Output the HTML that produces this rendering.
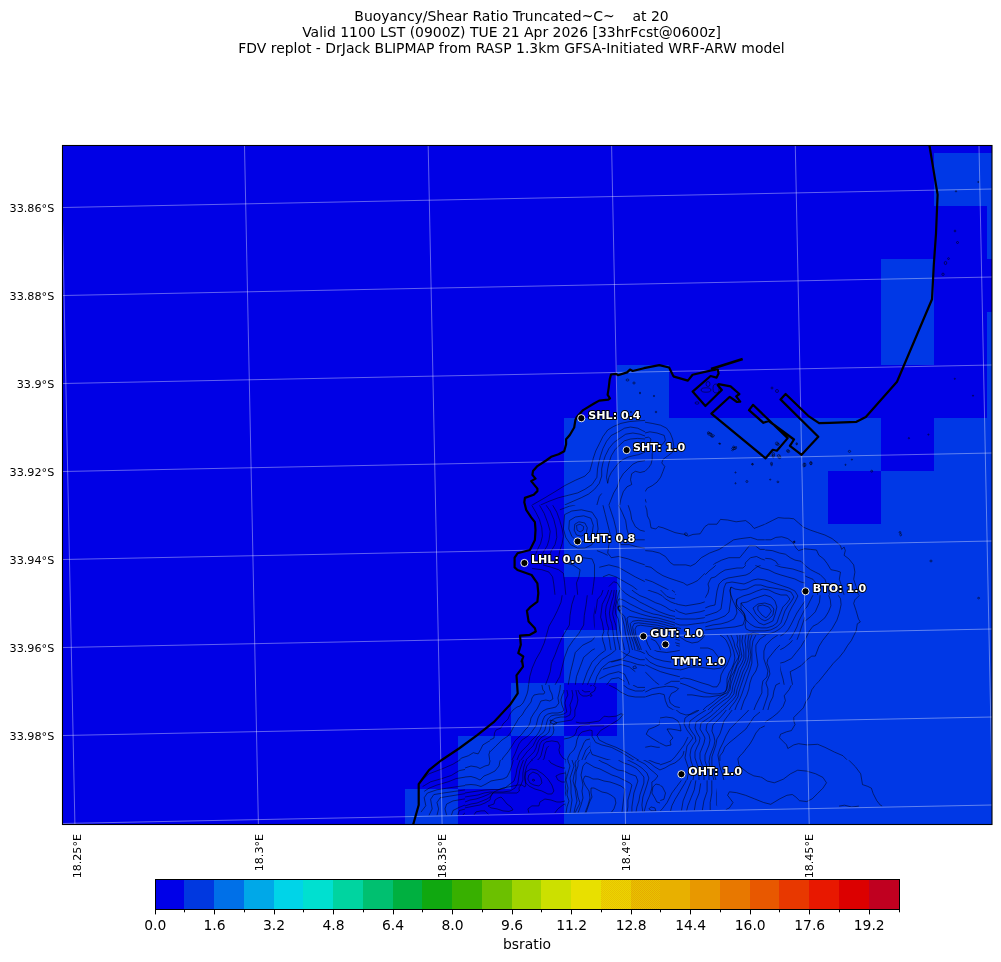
<!DOCTYPE html><html><head><meta charset="utf-8"><style>html,body{margin:0;padding:0;background:#fff;}svg{display:block;will-change:transform}text{font-family:"DejaVu Sans","Liberation Sans",sans-serif}</style></head><body>
<svg width="1001" height="962" viewBox="0 0 1001 962">
<rect width="1001" height="962" fill="#fff"/>
<text x="511.5" y="21.3" font-size="13.95" text-anchor="middle" fill="#000">Buoyancy/Shear Ratio Truncated~C~    at 20</text>
<text x="511.5" y="37.2" font-size="13.95" text-anchor="middle" fill="#000">Valid 1100 LST (0900Z) TUE 21 Apr 2026 [33hrFcst@0600z]</text>
<text x="511.5" y="53.0" font-size="13.95" text-anchor="middle" fill="#000">FDV replot - DrJack BLIPMAP from RASP 1.3km GFSA-Initiated WRF-ARW model</text>
<clipPath id="mc"><rect x="63" y="146" width="929" height="678"/></clipPath>
<g clip-path="url(#mc)">
<rect x="63" y="146" width="929" height="678" fill="#0000e6"/>
<path d="M934,153H987V206H934ZM987,153H1040V206H987ZM987,206H1040V259H987ZM881,259H934V312H881ZM881,312H934V365H881ZM987,312H1040V365H987ZM617,365H669V418H617ZM987,365H1040V418H987ZM564,418H617V471H564ZM617,418H669V471H617ZM669,418H722V471H669ZM722,418H775V471H722ZM775,418H828V471H775ZM828,418H881V471H828ZM934,418H987V471H934ZM987,418H1040V471H987ZM564,471H617V524H564ZM617,471H669V524H617ZM669,471H722V524H669ZM722,471H775V524H722ZM775,471H828V524H775ZM881,471H934V524H881ZM934,471H987V524H934ZM987,471H1040V524H987ZM564,524H617V577H564ZM617,524H669V577H617ZM669,524H722V577H669ZM722,524H775V577H722ZM775,524H828V577H775ZM828,524H881V577H828ZM881,524H934V577H881ZM934,524H987V577H934ZM987,524H1040V577H987ZM617,577H669V630H617ZM669,577H722V630H669ZM722,577H775V630H722ZM775,577H828V630H775ZM828,577H881V630H828ZM881,577H934V630H881ZM934,577H987V630H934ZM987,577H1040V630H987ZM564,630H617V683H564ZM617,630H669V683H617ZM669,630H722V683H669ZM722,630H775V683H722ZM775,630H828V683H775ZM828,630H881V683H828ZM881,630H934V683H881ZM934,630H987V683H934ZM987,630H1040V683H987ZM511,683H564V736H511ZM617,683H669V736H617ZM669,683H722V736H669ZM722,683H775V736H722ZM775,683H828V736H775ZM828,683H881V736H828ZM881,683H934V736H881ZM934,683H987V736H934ZM987,683H1040V736H987ZM458,736H511V789H458ZM564,736H617V789H564ZM617,736H669V789H617ZM669,736H722V789H669ZM722,736H775V789H722ZM775,736H828V789H775ZM828,736H881V789H828ZM881,736H934V789H881ZM934,736H987V789H934ZM987,736H1040V789H987ZM405,789H458V842H405ZM564,789H617V842H564ZM617,789H669V842H617ZM669,789H722V842H669ZM722,789H775V842H722ZM775,789H828V842H775ZM828,789H881V842H828ZM881,789H934V842H881ZM934,789H987V842H934ZM987,789H1040V842H987Z" fill="#0038e6" shape-rendering="crispEdges"/>
<clipPath id="cclip"><path d="M60,100L1000,100L1000,804.4L60,823.1Z"/></clipPath>
<g clip-path="url(#cclip)"><g id="contours" fill="none" stroke="#000" stroke-opacity="0.7" stroke-width="0.72" stroke-linejoin="round">
<defs><clipPath id="t0"><rect x="525" y="415" width="120" height="90.0"/></clipPath><clipPath id="t1"><rect x="645" y="415" width="120" height="90.0"/></clipPath><mask id="t2" maskUnits="userSpaceOnUse" x="0" y="0" width="1001" height="962"><rect x="525" y="505" width="120" height="90.0" fill="#fff"/><rect x="595" y="590" width="50" height="5.0" fill="#000"/></mask><mask id="t3" maskUnits="userSpaceOnUse" x="0" y="0" width="1001" height="962"><rect x="525" y="595" width="120" height="90.0" fill="#fff"/><rect x="595" y="595" width="50" height="55.0" fill="#000"/></mask><mask id="t4" maskUnits="userSpaceOnUse" x="0" y="0" width="1001" height="962"><rect x="645" y="505" width="120" height="90.0" fill="#fff"/><rect x="645" y="590" width="30" height="5.0" fill="#000"/><rect x="705" y="565" width="60" height="30.0" fill="#000"/></mask><mask id="t5" maskUnits="userSpaceOnUse" x="0" y="0" width="1001" height="962"><rect x="765" y="505" width="120" height="90.0" fill="#fff"/><rect x="765" y="565" width="40" height="30.0" fill="#000"/></mask><mask id="t6" maskUnits="userSpaceOnUse" x="0" y="0" width="1001" height="962"><rect x="645" y="595" width="120" height="90.0" fill="#fff"/><rect x="645" y="595" width="30" height="55.0" fill="#000"/><rect x="705" y="595" width="60" height="45.0" fill="#000"/><rect x="680" y="635" width="85" height="50.0" fill="#000"/></mask><mask id="t7" maskUnits="userSpaceOnUse" x="0" y="0" width="1001" height="962"><rect x="765" y="595" width="120" height="90.0" fill="#fff"/><rect x="765" y="595" width="40" height="45.0" fill="#000"/><rect x="765" y="635" width="15" height="50.0" fill="#000"/></mask><clipPath id="t8"><rect x="405" y="685" width="85" height="75"/></clipPath><clipPath id="t9"><rect x="590" y="685" width="55" height="75"/></clipPath><mask id="t10" maskUnits="userSpaceOnUse" x="0" y="0" width="1001" height="962"><rect x="645" y="685" width="120" height="75" fill="#fff"/><rect x="680" y="685" width="85" height="25" fill="#000"/><rect x="660" y="710" width="100" height="50" fill="#000"/></mask><mask id="t11" maskUnits="userSpaceOnUse" x="0" y="0" width="1001" height="962"><rect x="765" y="685" width="120" height="75" fill="#fff"/><rect x="765" y="685" width="15" height="25" fill="#000"/></mask><clipPath id="t12"><rect x="405" y="760" width="60" height="66"/></clipPath><mask id="t13" maskUnits="userSpaceOnUse" x="0" y="0" width="1001" height="962"><rect x="660" y="760" width="57" height="66" fill="#fff"/><rect x="660" y="760" width="57" height="20" fill="#000"/></mask><mask id="t14" maskUnits="userSpaceOnUse" x="0" y="0" width="1001" height="962"><rect x="717" y="760" width="183" height="66" fill="#fff"/><rect x="717" y="760" width="43" height="20" fill="#000"/></mask><clipPath id="t15"><rect x="490" y="685" width="100" height="75"/></clipPath><clipPath id="t16"><rect x="465" y="760" width="100" height="66"/></clipPath><clipPath id="t17"><rect x="565" y="760" width="95" height="66"/></clipPath><clipPath id="t18"><rect x="595" y="590" width="80" height="60.0"/></clipPath><mask id="t19" maskUnits="userSpaceOnUse" x="0" y="0" width="1001" height="962"><rect x="705" y="565" width="100" height="75.0" fill="#fff"/><rect x="705" y="635" width="75" height="5.0" fill="#000"/></mask><clipPath id="t20"><rect x="680" y="635" width="100" height="75"/></clipPath><clipPath id="t21"><rect x="660" y="710" width="100" height="70"/></clipPath></defs>
<g clip-path="url(#t0)">
<polyline points="532.2,505.0 543.0,498.9 555.0,491.7 564.6,485.7 575.3,480.3 584.9,476.1 589.7,471.3 591.5,465.3 593.3,458.2 595.7,451.0 599.3,443.8 602.9,436.6 607.7,430.0 613.7,426.4 620.9,423.4 629.3,421.6 638.9,420.8 645.0,420.4"/>
<polyline points="540.6,505.0 549.0,501.3 558.6,497.7 568.2,495.3 577.7,492.9 584.9,489.3 592.1,484.5 596.9,477.3 597.5,468.9 598.7,463.0 600.5,455.8 602.9,448.6 606.5,441.4 611.3,435.4 618.5,431.8 624.5,428.2 630.5,427.0 637.7,428.2 642.5,430.6 645.0,431.8"/>
<polyline points="564.6,505.0 573.0,501.3 581.3,497.7 588.5,494.1 594.5,489.3 599.3,483.3 601.7,476.1 601.7,468.9 602.9,463.0 605.3,455.8 608.9,448.6 613.7,442.6 619.7,438.4 625.7,434.2 632.9,433.0 640.1,434.2 645.0,436.0"/>
<polyline points="607.7,483.3 606.5,477.3 607.7,468.9 608.9,463.0 611.3,455.8 614.9,449.8 619.7,445.0 624.5,440.8 630.5,439.0 637.7,438.4 645.0,439.0"/>
<polyline points="645.0,452.2 638.9,454.6 632.9,455.8 628.1,457.0 623.3,459.4 618.5,463.0 614.9,467.7 611.3,472.5 608.9,477.3 607.7,483.3"/>
<polyline points="645.0,460.6 637.7,461.8 632.9,464.2 628.1,468.9 623.3,473.7 619.7,479.7 617.3,486.9 613.7,492.9 611.3,498.9 608.9,505.0"/>
<polyline points="645.0,471.3 640.1,472.5 635.3,471.3 631.7,473.7 630.5,479.7 631.7,484.5 626.9,486.9 623.3,491.7 620.9,498.9 619.7,505.0"/>
<polyline points="601.7,493.5 599.3,496.5 596.9,505.0"/>
</g>
<g clip-path="url(#t1)">
<polyline points="645.0,422.2 652.2,423.4 660.6,425.2 666.6,428.2 670.2,433.0 672.6,439.0 673.8,446.2 672.6,452.2 667.8,455.8 663.0,459.4 661.8,463.0 664.8,466.5 663.0,471.3 660.6,477.3 657.0,482.1 652.2,485.7 647.4,488.1 645.0,491.7"/>
<polyline points="645.0,433.0 649.8,431.8 657.0,433.0 664.2,435.4 665.4,440.2 663.0,443.8 658.2,447.4 654.6,449.8 652.2,453.4 652.2,459.4 651.0,464.2 648.6,467.7 645.0,471.3"/>
<polyline points="645.0,437.8 648.6,437.2 651.0,439.0 649.8,443.8 648.6,448.6 645.0,452.2"/>
<polyline points="709.7,433.0 714.5,435.4 713.3,437.2 710.3,436.0 709.7,433.0"/>
<polyline points="731.3,451.0 736.1,446.2 736.7,447.4 732.5,451.0"/>
<polyline points="645.0,498.9 646.2,502.5"/>
</g>
<g mask="url(#t2)">
<polyline points="531.6,505.0 535.8,512.2 539.4,519.4 541.8,527.8 542.4,536.2 540.6,543.4 537.6,549.4 535.2,555.3"/>
<polyline points="539.4,505.0 544.2,513.4 547.8,523.0 550.2,531.4 549.0,539.8 547.2,545.8 544.2,550.6 541.8,555.3"/>
<polyline points="546.0,505.0 550.2,511.0 553.8,519.4 556.2,529.0 556.8,537.4 555.0,544.6 551.4,550.6 549.0,556.5"/>
<polyline points="552.6,505.0 556.8,512.2 559.8,520.6 562.2,529.0 563.4,536.2 562.2,543.4 559.8,550.6 558.6,557.7"/>
<polyline points="576.5,525.4 580.1,524.2 583.7,526.6 583.1,530.2 580.1,532.0 577.1,530.2 576.5,525.4"/>
<polyline points="574.8,524.2 578.9,521.8 584.9,523.0 587.3,527.8 586.1,533.8 581.3,536.2 576.5,535.0 574.2,530.2 574.8,524.2"/>
<polyline points="569.4,520.6 575.3,517.0 583.7,515.8 590.9,518.2 593.3,525.4 592.1,533.8 587.3,539.8 581.3,542.2 576.5,541.0 571.8,536.2 568.8,529.0 569.4,520.6"/>
<polyline points="564.6,514.6 571.8,511.0 581.3,509.8 592.1,512.2 596.9,519.4 598.1,529.0 595.7,538.6 592.1,544.6 584.9,548.2 577.7,548.2 570.6,544.6 565.8,537.4 563.4,529.0 564.6,514.6"/>
<polyline points="559.8,509.8 569.4,506.2 575.3,505.0"/>
<polyline points="602.9,505.0 605.3,514.6 607.7,524.2 610.1,533.8 608.9,544.6 607.7,553.0 611.3,557.7 618.5,556.5 628.1,558.9 637.7,562.5 645.0,564.9"/>
<polyline points="608.9,505.0 611.3,512.2 613.7,519.4 616.1,529.0 617.3,538.6 620.9,544.6 629.3,544.6 637.7,547.0 645.0,548.2"/>
<polyline points="618.5,505.0 622.1,512.2 625.7,520.6 626.9,529.0 629.3,537.4 636.5,539.8 645.0,539.8"/>
<polyline points="628.1,505.0 630.5,512.2 631.7,519.4 635.3,526.6 640.1,530.2 645.0,531.4"/>
<polyline points="563.4,562.5 573.0,564.9 580.1,569.7 578.9,576.9 576.5,582.9 577.7,595.0"/>
<polyline points="582.5,557.7 592.1,558.9 594.5,564.9 594.5,576.9 593.3,586.5 592.1,595.0"/>
<polyline points="599.3,567.3 608.9,564.9 618.5,567.3 626.9,572.1 635.3,576.9 645.0,581.7"/>
<polyline points="602.9,576.9 608.9,574.5 616.1,576.9 624.5,581.7 632.9,586.5 638.9,591.3 645.0,595.0"/>
<polyline points="608.9,586.5 613.7,581.7 617.3,582.9 620.9,588.9 623.3,595.0"/>
<polyline points="596.9,550.6 602.9,553.0 607.7,555.3"/>
<polyline points="532.2,568.5 541.8,569.7 549.0,572.1 552.6,576.9 553.8,584.1 555.0,595.0"/>
<polyline points="543.0,564.9 551.4,567.3 558.6,569.7 563.4,573.3 564.6,582.9 565.8,595.0"/>
</g>
<g mask="url(#t3)">
<polyline points="562.2,595.0 561.0,602.2 557.4,610.6 553.8,617.8 549.0,626.2 546.6,634.6 544.2,643.0 540.6,651.3 535.8,659.7 532.2,668.1 529.8,676.5 528.6,685.0"/>
<polyline points="574.8,595.0 571.8,604.6 570.0,615.4 569.4,625.0 565.8,631.0 562.2,637.0 558.6,645.3 555.0,654.9 551.4,663.3 550.2,671.7 547.8,678.9 545.4,685.0"/>
<polyline points="587.3,595.0 586.1,604.6 584.3,615.4 583.7,625.0 578.9,633.4 573.0,640.6 568.2,647.7 564.6,657.3 562.2,666.9 559.8,676.5 555.0,685.0"/>
<polyline points="596.9,595.0 595.7,604.6 593.9,615.4 594.5,626.2 596.9,634.6 592.1,640.6 582.5,645.3 575.3,652.5 573.0,662.1 570.6,671.7 568.2,685.0"/>
<polyline points="602.9,595.0 601.7,604.6 600.5,616.6 602.9,626.2 607.7,634.6 608.9,640.6 601.7,645.3 592.1,650.1 583.7,657.3 580.1,666.9 576.5,676.5 575.3,685.0"/>
<polyline points="611.3,595.0 608.9,602.2 607.7,610.6 611.3,619.0 614.9,628.6 617.3,635.8 616.1,643.0 608.9,647.7 599.3,654.9 592.1,662.1 587.3,671.7 582.5,685.0"/>
<polyline points="614.9,595.0 613.7,602.2 612.5,610.6 616.1,619.0 619.7,628.6 620.9,638.2 619.7,646.5 611.3,653.7 601.7,659.7 595.7,666.9 590.9,676.5 587.3,685.0"/>
<polyline points="617.3,595.0 619.7,604.6 623.3,613.0 624.5,623.8 628.1,633.4 630.5,643.0 629.3,652.5 623.3,658.5 608.9,662.1 601.7,668.1 596.9,676.5 594.5,685.0"/>
<polyline points="623.3,595.0 626.9,602.2 630.5,609.4 632.9,615.4 640.1,619.0 645.0,617.8"/>
<polyline points="628.1,595.0 632.9,599.8 638.9,603.4 645.0,604.6"/>
<polyline points="632.9,595.0 638.9,597.4 645.0,598.6"/>
<polyline points="620.9,609.4 624.5,616.6 629.3,622.6 632.9,628.6 635.3,633.4 640.1,635.8 645.0,634.6"/>
<polyline points="626.9,619.0 630.5,626.2 636.5,629.8 641.3,628.6 645.0,627.4"/>
<polyline points="624.5,645.3 629.3,647.7 635.3,650.1 640.1,651.3 645.0,653.7"/>
<polyline points="620.9,651.3 626.9,654.9 632.9,657.3 640.1,659.7 645.0,659.7"/>
<polyline points="611.3,662.1 620.9,659.7 630.5,662.1 637.7,664.5 645.0,665.7"/>
<polyline points="602.9,669.3 611.3,666.9 620.9,664.5 629.3,666.9 635.3,671.7"/>
<polyline points="599.3,678.9 608.9,674.1 618.5,671.7 624.5,674.1 628.1,681.3 629.3,685.0"/>
<polyline points="606.5,685.0 611.3,678.9 618.5,677.7 624.5,681.3"/>
<polyline points="632.9,666.9 635.3,665.7 636.5,668.1 633.5,668.7 632.9,666.9"/>
</g>
<g mask="url(#t4)">
<polyline points="645.0,505.0 646.8,509.8 647.4,515.8 649.8,520.6 651.0,527.8 655.8,529.0 658.2,526.6 663.0,527.8 669.0,530.2 675.0,532.6 681.0,533.8 684.6,534.4 688.2,536.2 693.0,534.4 700.1,533.8 704.9,526.6 708.5,524.2 716.9,524.2 720.5,519.4 727.7,520.0 736.1,521.8 745.7,520.6 750.5,524.2 754.1,528.4 758.9,526.6 765.0,524.2"/>
<polyline points="645.0,550.6 652.2,551.2 659.4,553.0 665.4,556.5 670.2,562.5 673.8,564.9 679.8,564.9 685.8,564.9 690.6,566.1 695.3,563.7 701.3,557.7 709.7,553.0 719.3,549.4 726.5,544.6 733.7,539.8 740.9,538.6 750.5,537.4 757.7,539.8 765.0,539.8"/>
<polyline points="645.0,566.1 651.0,567.3 657.0,572.1 663.0,575.7 669.0,578.1 676.2,580.5 683.4,582.9 687.0,585.3 693.0,582.9 697.7,580.5 702.5,575.7 708.5,569.7 714.5,563.7 721.7,560.1 728.9,557.7 739.7,557.7 744.5,551.8 749.3,545.8 755.3,545.8 760.1,549.4 765.0,549.4"/>
<polyline points="645.0,579.3 652.2,581.7 659.4,585.3 666.6,588.9 672.6,592.5 676.2,595.0"/>
<polyline points="645.0,591.3 652.2,592.5 657.0,595.0"/>
<polyline points="708.5,595.0 707.3,588.9 709.7,581.7 714.5,576.9 722.9,570.9 731.3,569.7 739.7,567.3 743.3,569.7 745.7,562.5 750.5,557.7 756.5,556.5 761.3,558.9 765.0,560.1"/>
<polyline points="716.9,595.0 718.1,588.9 721.7,581.7 728.9,578.1 738.5,575.7 746.9,574.5 752.9,568.5 760.1,566.1 765.0,567.3"/>
<polyline points="722.9,595.0 724.1,588.9 727.7,584.1 736.1,581.7 743.3,581.7 750.5,578.1 755.3,573.3 760.1,572.1 765.0,573.3"/>
<polyline points="727.7,595.0 728.9,588.9 733.7,586.5 740.9,586.5 748.1,585.3 754.1,579.3 760.1,576.9 765.0,578.1"/>
<polyline points="731.3,595.0 731.3,590.1 736.1,588.9 743.3,591.3 749.3,588.9 755.3,584.1 761.3,581.7 765.0,582.9"/>
<polyline points="740.9,595.0 746.9,593.7 752.9,588.9 758.9,586.5 765.0,587.7"/>
<polyline points="684.6,533.2 686.4,532.8 687.6,534.4 686.4,535.9 684.8,535.0 684.6,533.2"/>
</g>
<g mask="url(#t5)">
<polyline points="765.0,524.2 772.2,520.6 778.2,517.6 784.2,518.2 789.0,518.2 793.8,518.8 798.6,523.0 803.4,527.2 810.6,530.2 817.7,532.6 824.9,535.0 832.1,538.6 838.1,543.4 840.5,545.8 841.7,549.4 844.1,547.0 845.3,550.6 844.1,555.3 848.9,558.9 853.7,564.9 854.9,572.1 853.7,579.3 856.1,586.5 858.5,595.0"/>
<polyline points="765.0,539.8 771.0,539.8 775.8,537.4 781.8,536.8 787.8,538.6 792.6,542.2 796.2,548.2 798.6,550.6 804.6,548.8 810.6,549.4 816.5,550.0 818.9,555.3 823.7,558.9 827.3,563.7 830.9,569.7 836.9,570.9 840.5,572.1 839.3,579.3 841.7,586.5 844.1,595.0"/>
<polyline points="765.0,550.0 772.2,550.6 779.4,553.0 785.4,554.2 790.2,557.7 795.0,560.1 801.0,561.3 805.8,566.1 810.6,569.7 815.3,572.1 820.1,574.5 824.9,579.3 827.3,586.5 829.7,595.0"/>
<polyline points="765.0,558.3 771.0,558.9 775.8,561.3 778.2,564.9 784.2,566.1 791.4,568.5 797.4,570.9 802.2,574.5 807.0,576.9 813.0,579.3 816.5,584.1 817.7,595.0"/>
<polyline points="765.0,566.7 769.8,567.3 774.6,572.1 783.0,574.5 790.2,576.9 796.2,580.5 801.0,582.9 804.6,585.3"/>
<polyline points="765.0,572.1 772.2,575.7 779.4,579.3 786.6,581.7 793.8,584.1 801.0,587.7"/>
<polyline points="765.0,576.9 772.2,581.7 779.4,584.1 786.6,586.5 795.0,588.9 801.0,591.3"/>
<polyline points="765.0,581.7 772.2,586.5 779.4,588.9 786.6,591.3 793.8,593.7 797.4,595.0"/>
<polyline points="765.0,586.5 772.2,590.1 778.2,592.5 781.8,595.0"/>
<polyline points="765.0,590.1 769.8,593.1 772.2,595.0"/>
<polyline points="793.2,541.6 794.4,541.0 795.0,542.4 793.8,542.8 793.2,541.6"/>
</g>
<g mask="url(#t6)">
<polyline points="659.4,595.0 664.2,598.6 671.4,602.2 678.6,604.6 685.8,605.8 693.0,604.6 700.1,603.4 707.3,601.0 712.1,597.4 714.5,595.0"/>
<polyline points="645.0,601.0 652.2,602.2 659.4,604.6 666.6,607.0 673.8,608.2 678.6,611.8 685.8,614.2 693.0,613.0 700.1,611.8 708.5,609.4 714.5,605.8 716.9,599.8 718.1,595.0"/>
<polyline points="645.0,609.4 652.2,610.6 659.4,613.0 666.6,615.4 673.8,617.8 681.0,619.0 688.2,619.0 695.3,619.0 703.7,617.8 712.1,615.4 718.1,611.8 721.7,605.8 722.9,599.8 724.1,595.0"/>
<polyline points="645.0,614.2 651.0,615.4 658.2,617.8 665.4,620.2 672.6,622.6 679.8,625.0 687.0,625.0 695.3,623.8 704.9,622.6 714.5,621.4 721.7,617.8 727.7,611.8 728.9,604.6 730.1,595.0"/>
<polyline points="645.0,619.0 652.2,620.2 660.6,622.6 669.0,625.0 676.2,627.4 681.0,628.6"/>
<polyline points="645.0,622.6 652.2,623.8 659.4,626.2 666.6,627.4 675.0,628.6"/>
<polyline points="671.4,638.2 681.0,640.6 688.2,641.8 696.5,640.6 704.9,639.4 712.1,637.0 719.3,634.6 726.5,632.2 732.5,629.8 738.5,627.4 744.5,622.6 746.9,615.4 744.5,608.2 740.9,602.2 738.5,595.0"/>
<polyline points="669.0,640.6 676.2,643.0 684.6,645.3 693.0,645.3 701.3,644.2 709.7,641.8 716.9,639.4 724.1,638.2 731.3,637.0 736.1,634.6 740.9,631.0 749.3,626.2 752.9,619.0 750.5,611.8 746.9,604.6 744.5,598.6 743.3,595.0"/>
<polyline points="676.2,645.3 685.8,647.7 695.3,647.7 704.9,645.3 712.1,643.0"/>
<polyline points="645.0,640.6 649.8,647.7 657.0,651.3 666.6,652.5 675.0,651.3 681.0,650.1 688.2,648.9 695.3,650.1 704.9,651.3 712.1,651.3 716.9,650.1 724.1,645.3 727.7,641.8"/>
<polyline points="645.0,648.9 648.6,654.9 654.6,658.5 663.0,660.9 671.4,662.1"/>
<polyline points="645.0,657.3 649.8,662.1 657.0,665.7 666.6,668.1 676.2,669.3 685.8,670.5 695.3,669.3 704.9,668.1 712.1,668.1 719.3,666.9 726.5,663.3 730.1,657.3 731.3,650.1 728.9,644.2 726.5,640.6"/>
<polyline points="645.0,664.5 652.2,668.1 660.6,671.7 669.0,674.1 678.6,676.5 688.2,677.7 697.7,677.7 707.3,676.5 716.9,675.3 724.1,674.1 728.9,669.3 733.7,664.5 736.1,657.3 734.9,650.1 732.5,643.0 728.9,638.2"/>
<polyline points="645.0,671.7 649.8,676.5 654.6,681.3 659.4,685.0"/>
<polyline points="664.2,685.0 671.4,681.3 681.0,681.3 690.6,682.5 697.7,685.0"/>
<polyline points="736.1,685.0 737.3,678.9 738.5,671.7 740.9,664.5 743.3,657.3 744.5,650.1 745.7,643.0 746.9,635.8 750.5,631.0 755.3,628.6 760.1,627.4 765.0,626.2"/>
<polyline points="732.5,685.0 733.7,677.7 734.9,670.5 737.3,663.3 739.7,656.1 740.9,648.9 742.1,643.0 743.3,637.0 746.9,632.2"/>
<polyline points="740.9,685.0 742.1,677.7 744.5,669.3 746.9,662.1 748.1,654.9 749.3,647.7 751.7,640.6 755.3,635.8 760.1,633.4 765.0,632.2"/>
<polyline points="745.7,685.0 746.9,677.7 749.3,670.5 750.5,663.3 751.7,656.1 754.1,648.9 757.7,643.0 762.5,640.6 765.0,639.4"/>
<polyline points="750.5,685.0 751.7,678.9 752.9,671.7 754.1,664.5 756.5,657.3 760.1,652.5 765.0,650.1"/>
<polyline points="756.5,685.0 757.7,678.9 760.1,671.7 763.7,666.9 765.0,665.7"/>
<polyline points="728.9,685.0 730.1,678.9 731.3,672.9 733.7,666.9"/>
<polyline points="750.5,595.0 752.9,599.8 755.3,605.8 758.9,610.6 762.5,614.2 765.0,615.4"/>
<polyline points="757.7,595.0 760.1,601.0 763.7,604.6 765.0,605.8"/>
<polyline points="752.9,607.0 755.3,614.2 757.7,620.2 762.5,622.6 765.0,622.6"/>
</g>
<g mask="url(#t7)">
<polyline points="859.7,595.0 854.9,599.8 853.7,603.4 856.1,610.6 858.5,619.0 860.3,622.0 857.3,623.8 856.1,631.0 853.7,635.8 851.3,640.6 847.7,645.3 844.1,651.3 839.3,657.3 833.3,663.3 828.5,669.3 823.7,675.3 818.9,681.3 815.3,685.0"/>
<polyline points="838.1,595.0 840.5,598.6 841.1,604.6 839.3,613.0 836.9,620.2 832.1,628.6 827.3,634.6 822.5,640.6 818.9,646.5 815.3,656.1 811.8,656.1 807.0,659.7 801.0,665.7 795.0,669.3 790.2,671.7 791.4,678.9 792.6,685.0"/>
<polyline points="828.5,595.0 830.3,599.8 830.9,605.8 828.5,611.8 824.9,617.8 817.7,623.8 813.0,626.2 809.4,631.0 805.8,638.2 801.0,646.5 796.2,652.5 791.4,658.5 784.2,662.1 779.4,663.3 780.6,670.5 783.0,678.9 784.2,685.0"/>
<polyline points="820.1,595.0 819.5,602.2 815.3,611.8 810.6,616.6 804.6,621.4 802.2,623.8 799.8,631.0 796.2,635.8 790.2,643.0 784.2,647.7 777.0,651.3 769.8,657.3 765.0,662.1"/>
<polyline points="813.0,595.0 810.6,599.8 807.0,607.0 803.4,610.6 797.4,616.6 793.8,622.6 789.0,629.8 784.2,634.6 779.4,639.4 772.2,644.2 765.0,647.7"/>
<polyline points="803.4,595.0 802.2,601.0 798.6,607.0 793.8,613.0 789.0,619.0 784.2,623.8 779.4,628.6 772.2,633.4 765.0,637.0"/>
<polyline points="798.6,595.0 797.4,599.8 793.8,604.6 790.2,610.6 785.4,615.4 779.4,620.2 772.2,625.0 765.0,628.6"/>
<polyline points="792.6,595.0 793.8,598.6 790.2,602.2 787.8,607.0 783.0,611.8 777.0,617.8 769.8,622.6 765.0,625.0"/>
<polyline points="787.8,595.0 789.0,598.6 785.4,601.0 783.0,605.8 779.4,610.6 773.4,615.4 767.4,619.0 765.0,620.2"/>
<polyline points="765.0,603.4 769.8,605.8 772.2,610.6 769.8,615.4 765.0,617.8"/>
<polyline points="765.0,607.0 768.6,609.4 769.8,613.0 767.4,615.4 765.0,616.0"/>
<polyline points="769.8,595.0 775.8,599.8 779.4,604.6 778.2,610.6 774.6,615.4 768.6,619.0 765.0,621.4"/>
<polyline points="765.0,663.3 768.6,666.9 769.8,674.1 767.4,678.9 767.4,685.0"/>
</g>
<g clip-path="url(#t8)">
<polyline points="525.0,699.4 520.1,703.0 516.5,707.8 511.7,711.4 509.3,716.2 505.7,722.2 500.9,724.6 497.3,729.4 494.9,733.0 493.7,738.9 488.9,741.3 482.9,744.9 480.5,749.7 478.1,753.9 473.3,752.7 468.5,755.7 461.3,758.1 456.5,762.9 450.6,766.5 444.6,768.9 438.6,771.3 432.6,773.7 429.0,775.0"/>
<polyline points="525.0,711.4 521.3,716.2 517.7,722.2 514.1,728.2 510.5,733.0 504.5,737.7 497.3,741.3 491.3,747.3 488.9,754.5 490.1,762.9 484.1,765.3 479.3,767.7 472.1,766.5 466.1,767.7 458.9,770.1 453.0,772.5 449.4,775.0"/>
<polyline points="525.0,734.2 520.1,738.9 515.3,744.9 510.5,752.1 506.9,759.3 502.1,765.3 498.5,768.9 494.9,773.7 493.7,775.0"/>
<polyline points="525.0,747.3 520.1,750.9 516.5,756.9 512.9,764.1 510.5,771.3 509.3,775.0"/>
<polyline points="525.0,754.5 521.3,759.3 518.9,766.5 517.7,775.0"/>
<polyline points="525.0,759.3 522.5,764.1 520.7,771.3 520.1,775.0"/>
<polyline points="525.0,764.1 523.1,768.9 522.5,775.0"/>
</g>
<g clip-path="url(#t9)">
<polyline points="525.0,698.2 528.6,692.2 529.8,687.4 528.6,685.0"/>
<polyline points="539.4,685.0 543.0,691.0 544.2,694.6 537.0,698.2 532.2,701.8 528.6,709.0 525.0,712.6"/>
<polyline points="553.8,685.0 553.2,691.0 550.2,697.0 544.2,700.6 538.2,705.4 533.4,711.4 529.8,719.8 527.4,725.8 525.0,730.6"/>
<polyline points="558.6,685.0 557.4,692.2 556.2,700.6 549.0,705.4 543.0,711.4 538.2,718.6 534.6,725.8 531.0,731.8 527.4,736.5 525.0,738.9"/>
<polyline points="564.6,685.0 563.4,692.2 559.8,699.4 555.0,705.4 549.0,710.2 545.4,715.0 541.8,721.0 539.4,727.0 535.8,735.3 532.2,742.5 528.6,748.5 525.0,752.1"/>
<polyline points="568.2,685.0 567.0,692.2 564.6,699.4 561.0,705.4 553.8,712.6 549.0,716.2 545.4,721.0 543.0,727.0 540.6,736.5 537.0,744.9 532.2,753.3 527.4,758.1 525.0,760.5"/>
<polyline points="573.0,685.0 570.6,691.0 568.2,697.0 564.6,704.2 559.8,710.2 553.8,715.0 550.2,719.8 549.0,723.4 553.8,727.0 558.6,733.0 564.6,737.7 568.2,736.5 575.3,733.0"/>
<polyline points="567.0,685.0 569.4,688.6 575.3,691.0 581.3,689.8 587.3,687.4 592.1,685.0"/>
<polyline points="568.2,689.8 575.3,694.6 582.5,697.0 588.5,694.6 594.5,691.0 595.7,687.4 593.3,685.0"/>
<polyline points="565.8,695.8 570.6,700.6 576.5,703.0 583.7,704.2 584.9,699.4 582.5,695.8"/>
<polyline points="564.6,711.4 567.0,717.4 573.0,718.6 577.7,721.0 584.9,723.4 592.1,722.2 599.3,721.0 604.1,716.2 608.9,716.8 616.1,716.2 620.9,713.8 623.3,714.4 618.5,719.8 612.5,723.4 606.5,727.0 600.5,730.6 596.9,735.3 599.3,740.1 606.5,743.7 616.1,747.3 625.7,752.1 635.3,758.1 645.0,764.1"/>
<polyline points="564.6,721.0 570.6,724.6 575.3,727.0 582.5,727.0 590.9,725.8 599.3,725.8 604.1,725.8"/>
<polyline points="525.0,735.3 531.0,737.7 537.0,738.9 543.0,740.1 549.0,741.3 556.2,743.7 561.0,747.3 558.6,752.1 549.0,754.5 546.6,758.1 549.0,762.9 553.8,765.3 561.0,767.7 565.8,768.9"/>
<polyline points="564.6,737.7 570.6,735.3 576.5,731.8 581.3,729.4 587.3,729.4 592.1,730.6 592.1,736.5 595.7,742.5 601.7,744.9 611.3,747.3 620.9,752.1 630.5,758.1 640.1,764.1 645.0,767.7"/>
<polyline points="568.2,759.3 573.0,752.1 577.7,747.3 582.5,742.5 587.3,740.1 589.7,742.5 589.7,748.5 592.1,754.5 599.3,756.9 606.5,759.3 616.1,761.7 624.5,764.1 632.9,768.9 640.1,773.7 642.5,775.0"/>
<polyline points="568.2,775.0 569.4,768.9 573.0,764.1 577.7,759.3 583.7,754.5 587.3,752.1"/>
<polyline points="575.3,775.0 577.7,768.9 581.3,764.1 587.3,762.9 592.1,764.1 599.3,766.5 608.9,768.9 616.1,771.3 620.9,775.0"/>
<polyline points="525.0,768.9 531.0,771.3 537.0,773.7 539.4,775.0"/>
<polyline points="525.0,766.5 532.2,767.7 540.6,768.9 549.0,771.3 556.2,775.0"/>
<polyline points="608.9,685.0 616.1,688.6 620.9,692.2 628.1,695.8 635.3,697.0 642.5,697.0 645.0,697.0"/>
<polyline points="623.3,685.0 628.1,688.6 635.3,691.0 642.5,691.0 645.0,689.8"/>
<polyline points="632.9,685.0 637.7,687.4 645.0,687.4"/>
<polyline points="588.5,694.6 590.9,694.0 592.1,695.8 589.7,696.4 588.5,694.6"/>
</g>
<g mask="url(#t10)">
<polyline points="645.0,692.2 652.2,688.6 659.4,687.4 666.6,686.2 673.8,686.8 678.6,688.6 676.2,691.0 671.4,693.4 669.0,698.2 670.2,703.0 675.0,706.6 681.0,707.8 688.2,706.6 691.8,704.2 693.0,700.6 688.2,698.2 687.0,695.8 691.8,694.6 698.9,694.6 707.3,695.8 714.5,695.8 721.7,693.4 725.3,689.8 726.5,685.0"/>
<polyline points="645.0,697.0 652.2,694.6 659.4,693.4 664.2,694.6 665.4,700.6 667.8,706.6 673.8,710.2 681.0,711.4 690.6,711.4 697.7,709.0 704.9,705.4 712.1,700.6 719.3,698.2 726.5,695.8 730.1,691.0 731.3,685.0"/>
<polyline points="660.6,718.6 669.0,717.4 677.4,718.6 681.0,723.4 679.8,729.4 673.8,730.6 667.8,729.4 669.0,733.0 673.8,736.5 672.6,741.3 669.0,744.9 663.0,744.9 657.0,741.3 651.0,737.7 646.2,734.2 648.6,729.4 654.6,727.0 659.4,724.6 660.6,718.6"/>
<polyline points="645.0,747.3 651.0,746.1 657.0,747.3 663.0,747.3 669.0,746.1 676.2,743.7 681.0,738.9 683.4,733.0 684.6,724.6 688.2,721.0 695.3,718.6 702.5,716.2 709.7,712.6 716.9,709.0 724.1,704.2 731.3,698.2 733.7,692.2 734.9,685.0"/>
<polyline points="645.0,761.7 652.2,764.1 659.4,766.5 666.6,767.7 671.4,764.1 676.2,759.3 681.0,752.1 685.8,744.9 690.6,740.1 694.2,735.3 691.8,727.0 690.6,723.4 695.3,721.0 702.5,719.8 709.7,716.2 716.9,712.6 724.1,707.8 731.3,700.6 736.1,693.4 737.3,685.0"/>
<polyline points="685.8,775.0 684.6,766.5 685.8,758.1 688.2,749.7 691.8,743.7 695.3,738.9 695.3,733.0 695.3,725.8 700.1,723.4 707.3,721.0 714.5,717.4 721.7,713.8 728.9,707.8 734.9,699.4 738.5,692.2 739.7,685.0"/>
<polyline points="690.6,764.1 690.6,756.9 693.0,750.9 695.3,746.1 698.9,741.3 701.3,735.3 700.1,728.2 704.9,725.8 712.1,722.2 719.3,718.6 726.5,713.8 733.7,706.6 738.5,698.2 740.9,691.0 742.1,685.0"/>
<polyline points="697.7,764.1 697.7,756.9 698.9,750.9 702.5,746.1 704.9,741.3 704.9,733.0 707.3,728.2 713.3,725.8 720.5,722.2 727.7,717.4 734.9,710.2 739.7,701.8 743.3,693.4 744.5,685.0"/>
<polyline points="703.7,766.5 702.5,759.3 703.7,752.1 706.1,746.1 708.5,740.1 708.5,733.0 712.1,729.4 718.1,727.0 724.1,722.2 731.3,716.2 738.5,709.0 743.3,700.6 746.9,692.2 749.3,685.0"/>
<polyline points="708.5,766.5 707.3,759.3 708.5,752.1 710.9,744.9 712.1,738.9 714.5,733.0 719.3,730.6 724.1,725.8 731.3,721.0 738.5,713.8 744.5,705.4 748.1,695.8 751.7,685.0"/>
<polyline points="719.3,762.9 718.1,756.9 721.7,749.7 724.1,743.7 726.5,737.7 731.3,733.0 736.1,729.4 740.9,724.6 746.9,716.2 751.7,706.6 755.3,697.0 758.9,688.6 761.3,685.0"/>
<polyline points="738.5,775.0 737.3,767.7 738.5,759.3 740.9,753.3 744.5,748.5 748.1,742.5 751.7,736.5 755.3,731.8 760.1,728.2 765.0,725.8"/>
<polyline points="765.0,697.0 760.1,700.6 756.5,709.0 754.1,715.0 750.5,721.0 748.1,727.0 745.7,730.6"/>
</g>
<g mask="url(#t11)">
<polyline points="778.2,685.0 774.6,687.4 773.4,692.2 772.2,697.0 768.6,701.8 765.0,704.2"/>
<polyline points="791.4,685.0 789.0,689.8 784.2,695.8 785.4,700.6 783.0,706.6 778.2,712.6 772.2,717.4 765.0,722.2"/>
<polyline points="815.3,685.0 811.8,689.8 809.4,697.0 805.8,701.8 803.4,707.8 798.6,712.6 793.8,717.4 793.8,721.0 795.0,724.6 791.4,730.6 786.6,731.8 780.6,734.2 779.4,737.7 783.0,741.3 786.6,744.9 787.8,748.5 793.8,744.9 798.6,743.7 807.0,744.9 817.7,744.3 824.9,747.3 834.5,752.1 842.9,755.7 848.9,761.7 856.1,766.5 860.9,771.3 862.1,775.0"/>
<polyline points="791.4,775.0 796.2,770.7 803.4,770.7 810.6,771.3 817.7,773.7 821.3,775.0"/>
</g>
<g clip-path="url(#t12)">
<polyline points="421.0,781.0 429.0,773.8 441.8,769.0 453.0,764.2 460.9,759.4 468.9,754.6 475.3,751.4 480.1,746.6 483.3,745.0"/>
<polyline points="422.6,786.6 430.6,781.8 441.8,778.6 451.4,775.4 459.3,770.6 467.3,769.0 473.7,767.4 478.5,769.0 484.9,765.8 489.7,762.6 492.9,754.6 496.1,749.8 500.9,745.0"/>
<polyline points="424.2,791.4 429.0,788.2 437.0,785.0 448.2,781.8 456.1,778.6 465.7,777.0 473.7,777.0 481.7,780.2 488.1,778.6 494.5,773.8 500.9,769.0 504.1,762.6 507.3,754.6 508.9,748.2 510.5,745.0"/>
<polyline points="421.0,812.1 425.8,805.7 424.2,797.7 427.4,793.0 437.0,789.8 446.6,788.2 457.7,786.6 468.9,785.0 480.1,785.0 488.1,783.4 497.7,780.2 504.1,777.0 510.5,773.8 516.9,767.4 520.1,761.0 523.3,754.6 526.5,748.2 528.1,745.0"/>
<polyline points="429.0,815.3 432.2,808.9 430.6,799.3 433.8,794.6 443.4,793.0 454.6,791.4 465.7,789.8 475.3,789.8 484.9,788.2 496.1,786.6 504.1,785.0 513.7,781.8 520.1,777.0 523.3,770.6 526.5,764.2 531.3,757.8 532.9,751.4 534.5,745.0"/>
<polyline points="437.0,815.3 438.6,808.9 437.0,802.5 440.2,797.7 449.8,796.1 459.3,794.6 468.9,793.0 480.1,791.4 491.3,791.4 500.9,789.8 510.5,788.2 518.5,783.4 524.9,777.0 528.1,770.6 531.3,764.2 534.5,757.8 537.7,751.4 539.3,745.0"/>
<polyline points="446.6,815.3 445.0,808.9 446.6,804.1 453.0,800.9 462.5,799.3 472.1,797.7 483.3,796.1 492.9,794.6 504.1,793.0 513.7,791.4 521.7,786.6 526.5,780.2 528.1,773.8 531.3,767.4 536.1,761.0 540.9,754.6 542.5,748.2 544.1,745.0"/>
<polyline points="451.4,815.3 453.0,810.5 459.3,807.3 467.3,804.1 476.9,802.5 486.5,800.9 494.5,797.7 500.9,796.1 508.9,793.0 516.9,791.4 523.3,788.2 528.1,783.4"/>
<polyline points="457.7,815.3 459.3,810.5 465.7,808.9 473.7,807.3 483.3,805.7 491.3,804.1 496.1,800.9 500.9,799.3"/>
<polyline points="462.5,815.3 465.7,812.1 475.3,810.5 484.9,808.9 488.1,807.3"/>
<polyline points="528.1,775.4 532.9,772.2 539.3,775.4 542.5,780.2 540.9,785.0 536.1,786.6 529.7,783.4 528.1,775.4"/>
<polyline points="526.5,773.8 529.7,770.6 537.7,770.6 544.1,775.4 547.3,783.4 548.9,791.4 545.7,793.0 537.7,789.8 531.3,788.2 524.9,783.4 523.3,777.0 526.5,773.8"/>
<polyline points="516.9,745.0 520.1,751.4 523.3,757.8 526.5,762.6 532.9,765.8 540.9,767.4 548.9,773.8 552.1,783.4 555.2,793.0 548.9,796.1"/>
<polyline points="488.1,805.7 494.5,804.1 500.9,805.7 507.3,807.3 512.1,810.5 507.3,811.3 497.7,810.5 491.3,807.3 488.1,805.7"/>
<polyline points="481.7,815.3 488.1,812.1 494.5,812.1"/>
<polyline points="528.1,813.7 529.7,805.7 537.7,804.1 544.1,805.7 548.9,804.1"/>
<polyline points="539.3,804.1 542.5,800.9 550.5,799.3 558.4,800.9 565.0,802.5"/>
<polyline points="558.4,745.0 560.0,751.4 563.2,754.6 565.0,754.6"/>
<polyline points="565.0,770.6 558.4,773.8 556.8,778.6 561.6,781.8 565.0,781.8"/>
</g>
<g mask="url(#t13)">
<polyline points="566.4,745.0 564.8,754.6 568.0,764.2 566.4,777.0 564.8,789.8 566.4,800.9 568.0,812.1"/>
<polyline points="572.8,745.0 569.6,754.6 572.8,765.8 571.2,777.0 569.6,789.8 571.2,800.9 572.8,812.1"/>
<polyline points="579.2,745.0 576.0,751.4 577.6,761.0 576.0,770.6 576.0,783.4 574.4,796.1 577.6,812.1"/>
<polyline points="592.0,745.0 587.2,748.2 582.4,753.0 582.4,759.4 580.8,765.8 580.8,777.0 579.2,786.6 580.8,799.3 582.4,812.1"/>
<polyline points="588.8,751.4 590.4,757.8 596.8,761.0 608.0,764.2 619.1,767.4 628.7,772.2 635.1,777.0 638.3,786.6 639.9,797.7 641.5,808.9"/>
<polyline points="584.0,764.2 592.0,765.8 603.2,769.0 614.3,772.2 623.9,775.4 630.3,780.2 633.5,789.8 635.1,800.9 635.1,812.1"/>
<polyline points="584.0,777.0 593.6,778.6 603.2,780.2 614.3,783.4 622.3,786.6 627.1,793.0 628.7,802.5 628.7,812.1"/>
<polyline points="588.8,788.2 595.2,787.4 604.8,789.8 614.3,793.0 615.9,800.9 617.5,810.5"/>
<polyline points="590.4,793.0 592.0,800.9 592.0,810.5"/>
<polyline points="593.6,745.0 601.6,748.2 612.7,751.4 623.9,754.6 633.5,757.8 641.5,762.6 649.5,769.0 654.3,773.8 655.9,780.2 652.7,788.2 649.5,796.1 651.1,805.7 652.7,810.5"/>
<polyline points="601.6,745.0 612.7,746.6 623.9,749.8 633.5,753.0 643.1,757.8 651.1,762.6 657.5,765.8 665.5,765.8 670.3,761.0 675.1,756.2 681.5,751.4 686.3,745.0"/>
<polyline points="652.7,786.6 655.9,783.4 662.3,786.6 665.5,793.0 663.9,799.3 659.1,800.9 654.3,797.7 652.7,791.4 652.7,786.6"/>
<polyline points="681.5,780.2 676.7,786.6 671.9,793.0 667.1,802.5 662.3,808.9 659.1,812.1"/>
<polyline points="687.9,777.0 684.7,783.4 679.9,791.4 675.1,799.3 671.9,805.7 670.3,812.1"/>
<polyline points="692.7,777.0 689.5,785.0 686.3,793.0 683.1,800.9 681.5,810.5"/>
<polyline points="695.9,780.2 694.3,789.8 691.1,797.7 687.9,805.7 686.3,812.1"/>
<polyline points="700.7,783.4 699.1,793.0 695.9,800.9 694.3,810.5"/>
<polyline points="707.1,780.2 707.1,791.4 703.9,800.9 702.3,810.5"/>
<polyline points="711.8,780.2 711.8,793.0 710.2,802.5 710.2,810.5"/>
<polyline points="718.2,783.4 716.6,793.0 716.6,805.7"/>
<polyline points="684.7,745.0 687.9,751.4 691.1,757.8 692.7,764.2 694.3,770.6 695.9,777.0"/>
<polyline points="691.1,745.0 694.3,751.4 697.5,757.8 700.7,764.2 702.3,772.2"/>
<polyline points="699.1,745.0 702.3,751.4 705.5,757.8 707.1,765.8 708.7,773.8"/>
<polyline points="708.7,745.0 710.2,751.4 713.4,757.8 715.0,765.8"/>
<polyline points="716.6,745.0 718.2,751.4 720.0,754.6"/>
</g>
<g mask="url(#t14)">
<polyline points="722.2,745.0 718.6,755.8 720.4,764.8 716.8,775.6 715.0,781.0"/>
<polyline points="749.2,745.0 743.8,748.6 738.4,754.0 736.6,761.2 740.2,766.6 745.6,772.0 754.6,775.6 761.8,777.4 767.1,781.0 774.3,782.8 783.3,779.2 790.5,773.8 797.7,770.2 806.7,771.1 815.7,773.8 822.9,777.4 826.5,782.8 822.9,788.2 817.5,793.6 812.1,798.9 806.7,801.6 799.5,800.7 795.9,797.1 792.3,794.5 786.9,795.3 779.7,798.9 770.7,804.3 763.6,802.5 754.6,798.9 745.6,795.3 736.6,792.7 729.4,791.8 727.6,795.3 733.0,802.5 729.4,807.9 725.8,809.7"/>
<polyline points="715.0,800.7 716.8,806.1 715.0,809.7"/>
<polyline points="822.9,745.0 831.9,750.4 840.9,754.0 848.1,759.4 855.3,766.6 860.7,773.8 862.5,784.6 867.8,786.4 871.4,788.2 873.2,793.6 876.8,800.7 880.4,805.2 882.2,806.1"/>
<polyline points="839.1,806.1 844.5,805.2 851.7,807.0 858.9,806.1"/>
<polyline points="786.9,745.0 786.9,748.6 792.3,746.8"/>
</g>
<g clip-path="url(#t15)">
<polyline points="490.0,740.0 494.0,738.0 494.5,733.0 496.0,730.0 501.0,728.0 503.0,724.0 506.0,721.0 508.0,719.0 510.0,714.0 513.0,710.0 517.0,707.0 520.0,706.0 523.0,703.0 525.0,699.0 527.0,694.0 528.0,690.0 528.5,685.0"/>
<polyline points="490.0,751.9 496.0,745.9 502.0,740.0 508.0,736.0 511.0,732.0 513.0,728.0 516.0,723.0 519.0,718.0 522.0,715.0 525.0,710.0 528.0,706.0 531.0,702.0 532.0,698.0 534.0,695.0 539.0,694.0 543.9,694.0 544.9,692.0 542.9,690.0 541.9,685.0"/>
<polyline points="499.0,765.0 503.0,757.9 508.0,751.9 512.0,745.9 515.0,740.9 519.0,737.0 522.0,734.0 525.0,730.0 528.0,727.0 530.0,723.0 531.0,718.0 534.0,713.0 537.0,709.0 539.0,705.0 540.9,701.0 545.9,700.0 549.9,701.0 552.9,699.0 551.9,694.0 549.9,690.0 548.9,685.0"/>
<polyline points="510.0,765.0 512.0,759.9 515.0,753.9 517.0,748.9 519.0,743.9 522.0,740.0 525.0,738.0 528.0,736.0 531.0,733.0 533.0,730.0 536.0,726.0 537.0,722.0 538.0,718.0 540.0,714.0 542.9,711.0 546.9,709.0 551.9,708.0 555.9,707.0 558.9,703.0 557.9,698.0 558.9,694.0 559.9,690.0 560.4,685.0"/>
<polyline points="515.0,765.0 517.0,759.9 519.0,754.9 522.0,750.9 525.0,747.9 528.0,744.9 532.0,740.0 535.0,737.0 537.0,735.0 539.0,732.0 540.9,728.0 541.9,724.0 542.9,720.0 544.9,716.0 547.9,714.0 551.9,713.0 557.9,713.0 561.9,712.0 563.9,710.0 561.9,705.0 560.9,700.0 561.9,696.0 563.9,692.0 563.9,690.0"/>
<polyline points="519.0,765.0 521.0,759.9 524.0,755.9 527.0,751.9 530.0,748.9 533.0,745.9 535.0,741.9 537.0,738.0 540.0,735.0 542.9,733.0 544.9,730.0 545.9,726.0 546.9,722.0 547.9,719.0 550.9,716.0 554.9,715.0 559.9,715.0 563.9,714.0 566.9,712.0 565.9,708.0 564.9,703.0 565.9,699.0 567.9,695.0 566.9,690.0"/>
<polyline points="523.0,765.0 525.0,760.9 528.0,757.9 531.0,754.9 534.0,751.9 536.0,747.9 537.0,743.9 539.0,740.0 541.9,737.0 545.9,735.0 548.9,732.0 549.9,728.0 549.9,724.0 551.9,720.0 555.9,718.0 560.9,717.0 565.9,717.0 569.9,715.0 570.9,710.0 569.9,705.0 571.9,700.0 572.9,695.0 571.9,690.0"/>
<polyline points="527.0,765.0 530.0,760.9 533.0,758.9 536.0,755.9 538.0,751.9 539.0,747.9 540.0,743.9 541.9,740.9 545.9,739.0 549.9,737.0 552.9,734.0 553.9,730.0 552.9,725.0 554.9,723.0 559.9,722.0 565.9,721.0 571.9,720.0 574.9,716.0 574.9,710.0 576.9,705.0 577.9,700.0 576.9,695.0 575.9,690.0"/>
<polyline points="532.0,765.0 535.0,761.9 539.0,758.9 540.9,755.9 541.9,751.9 542.9,747.9 543.9,743.9 545.9,741.9 551.9,740.9 557.9,741.9 559.9,745.9 558.9,749.9 559.9,753.9 562.9,757.9 565.9,759.9 567.9,765.0"/>
<polyline points="537.0,765.0 540.9,761.9 543.9,758.9 544.9,754.9 545.9,750.9 546.9,747.9 548.9,745.9"/>
<polyline points="549.9,720.0 553.9,721.0 556.9,723.0 554.9,724.5 550.9,723.0 549.9,720.0"/>
<polyline points="563.9,739.0 568.9,738.0 573.9,736.0 575.9,733.0 576.9,729.0 579.9,726.0 584.9,725.0 590.0,724.0"/>
<polyline points="566.9,765.0 567.9,757.9 569.9,753.9 573.9,749.9 575.9,745.9 576.9,740.0 578.9,735.0 581.9,732.0 585.9,731.0 590.0,730.0"/>
<polyline points="576.9,765.0 577.9,757.9 579.9,751.9 581.9,747.9 583.9,742.9 585.9,740.0 590.0,739.0"/>
<polyline points="580.9,765.0 581.9,759.9 583.9,754.9 585.9,749.9 590.0,745.9"/>
<polyline points="583.9,765.0 584.9,759.9 586.9,755.9 590.0,751.9"/>
<polyline points="575.9,722.0 579.9,723.0 584.9,723.0 590.0,722.5"/>
<polyline points="577.9,690.0 579.9,694.0 582.9,696.0 586.9,696.0 590.0,695.0"/>
<polyline points="581.9,690.0 584.9,692.0 590.0,691.5"/>
</g>
<g clip-path="url(#t16)">
<polyline points="465.0,768.0 471.0,766.0 477.0,767.0 480.0,768.5 485.0,766.0 489.0,765.0 490.0,761.0 489.0,757.0 489.5,755.0"/>
<polyline points="465.0,777.0 471.0,776.5 476.0,778.0 480.0,780.0 484.0,776.0 489.0,774.0 495.0,771.0 499.0,766.0 500.0,761.0 502.0,757.0 504.0,755.0"/>
<polyline points="465.0,785.0 471.0,784.5 476.0,785.0 481.0,786.5 486.0,784.0 491.0,781.0 496.0,780.0 503.0,779.0 507.0,777.0 510.0,771.0 512.0,765.0 513.0,761.0 515.0,755.0"/>
<polyline points="465.0,793.0 471.0,792.0 478.0,791.0 485.0,790.0 492.0,789.5 499.0,789.5 505.0,788.0 510.0,784.0 514.0,781.0 515.9,775.0 516.9,769.0 518.9,763.0 520.9,758.0 521.9,755.0"/>
<polyline points="465.0,797.0 471.0,796.0 478.0,795.0 484.0,793.0 490.0,792.0 496.0,792.0 503.0,792.0 510.0,791.0 515.0,788.0 517.9,783.0 518.9,776.0 519.9,770.0 521.9,764.0 523.9,759.0 525.9,755.0"/>
<polyline points="465.0,802.0 470.0,800.0 476.0,799.0 482.0,797.0 487.0,795.0 491.0,793.0 494.0,793.0 498.0,793.0 505.0,793.0 510.0,793.0 516.9,793.0 519.4,791.0 518.9,788.0 520.9,785.0 522.9,780.0 522.9,773.0 523.9,767.0 525.9,761.0 528.9,757.0 530.9,755.0"/>
<polyline points="465.0,805.9 471.0,804.0 477.0,803.0 482.0,801.0 487.0,799.0 490.0,797.0 492.0,794.0 494.0,792.0 498.0,790.0 503.0,788.0 508.0,787.0 513.0,786.0 517.9,785.0 521.9,785.0 524.9,787.0 525.9,785.0 524.9,780.0 524.9,773.0 526.9,766.0 530.9,761.0 535.9,758.0 539.9,755.0"/>
<polyline points="465.0,807.9 470.0,806.9 475.0,805.9 480.0,805.0 485.0,803.0 490.0,800.0 491.0,796.0 493.0,793.0"/>
<polyline points="488.0,805.9 491.0,805.0 494.0,804.0 495.0,800.0 498.0,798.0 501.0,797.0 503.0,799.0 507.0,804.0 511.0,806.9 513.0,809.9 509.0,811.4 503.0,810.9 497.0,808.9 491.0,807.9 488.0,805.9"/>
<polyline points="528.9,775.0 532.9,772.0 537.9,774.0 540.9,778.0 541.9,783.0 538.9,786.0 533.9,785.0 529.9,783.0 527.9,779.0 528.9,775.0"/>
<polyline points="532.9,779.0 534.9,780.0 533.9,781.2 532.4,780.5 532.9,779.0"/>
<polyline points="525.9,772.0 530.9,769.0 536.9,770.0 542.9,774.0 547.9,779.0 551.9,785.0 553.9,791.0 551.9,794.0 547.9,794.0 541.9,791.0 534.9,789.0 528.9,786.0 525.9,783.0 524.9,777.0 525.9,772.0"/>
<polyline points="547.9,755.0 547.9,759.0 550.9,763.0 556.9,766.0 562.9,768.0 565.0,768.0"/>
<polyline points="565.0,773.0 559.9,774.0 555.9,776.0 557.9,780.0 561.9,782.0 565.0,782.0"/>
<polyline points="528.9,812.9 527.9,808.9 531.9,805.9 538.9,805.9 539.9,802.0 544.9,799.0 550.9,800.0 556.9,802.0 560.9,802.0 565.0,801.0"/>
<polyline points="554.9,812.9 557.9,808.9 562.9,805.0 565.0,804.0"/>
<polyline points="474.0,814.9 476.0,811.9 481.0,810.9 485.0,810.9 488.0,813.9 489.0,814.9"/>
</g>
<g clip-path="url(#t17)">
<polyline points="564.0,755.0 565.0,761.0 564.0,768.0 566.0,775.0 565.0,783.0 566.0,791.0 564.0,799.0 565.0,805.0 563.0,812.9"/>
<polyline points="569.0,755.0 568.0,761.0 570.0,766.0 568.0,773.0 566.0,780.0 568.0,788.0 567.0,795.0 569.0,801.0 567.0,806.9 566.0,812.9"/>
<polyline points="573.0,755.0 572.0,760.0 574.0,766.0 572.0,772.0 570.0,778.0 571.0,785.0 571.0,793.0 572.0,800.0 571.0,806.9 570.0,812.9"/>
<polyline points="576.0,755.0 577.0,759.0 575.0,763.0 576.0,768.0 574.0,775.0 573.0,781.0 575.0,788.0 576.0,795.0 577.0,801.0 575.0,807.9 574.0,812.9"/>
<polyline points="581.0,755.0 580.0,759.0 578.0,762.0 578.0,766.0 576.0,772.0 576.0,779.0 575.0,785.0 577.0,791.0 578.0,797.0 580.0,803.0 577.0,808.9 575.0,812.9"/>
<polyline points="578.0,812.9 581.0,805.0 583.0,798.0 582.0,791.0 583.0,785.0 581.0,775.0 583.0,766.0 586.0,762.5 589.0,764.0 594.0,767.0 600.0,769.0 606.0,772.0 611.9,775.0 617.9,777.0 623.9,780.0 629.9,783.0 631.9,785.0 629.9,793.0 627.9,800.0 627.9,806.9 626.9,812.9"/>
<polyline points="585.0,812.9 588.0,805.0 590.0,798.0 589.0,791.0 585.0,785.0 583.0,780.0 585.0,776.0 589.0,777.0 593.0,779.0 598.0,779.0 604.0,781.0 610.0,782.0 615.9,784.0 620.9,786.0 624.9,789.0 623.9,797.0 622.9,805.0 621.9,812.9"/>
<polyline points="610.9,812.9 613.9,808.9 615.9,803.0 614.9,798.0 610.9,795.0 607.0,793.0 602.0,792.0 598.0,790.0 594.0,788.0 591.0,788.0 591.0,793.0 592.0,797.0 590.0,801.0 588.0,806.9 586.0,812.9"/>
<polyline points="590.0,755.0 592.0,758.0 598.0,759.5 602.0,762.0 607.0,764.0 611.9,767.0 617.9,770.0 623.9,771.0 629.9,774.0 635.9,776.0 637.9,781.0 635.9,787.0 633.9,793.0 632.9,800.0 631.9,806.9 631.9,812.9"/>
<polyline points="611.9,755.0 615.9,758.0 619.9,761.0 623.9,763.0 629.9,765.0 635.9,768.0 639.9,772.0 643.9,777.0 643.9,783.0 641.9,789.0 639.9,795.0 638.9,801.0 636.9,806.9 635.9,812.9"/>
<polyline points="619.9,755.0 623.9,758.0 629.9,761.0 635.9,764.0 641.9,768.0 646.9,773.0 648.9,778.0 646.9,785.0 644.9,791.0 642.9,797.0 641.9,805.0 642.9,812.9"/>
<polyline points="627.9,755.0 632.9,758.0 638.9,761.0 644.9,764.0 649.9,769.0 654.9,773.0 657.9,776.0 654.9,780.0 651.9,782.0 651.9,788.0 649.9,795.0 646.9,802.0 644.9,808.9 643.9,812.9"/>
<polyline points="631.9,755.0 637.9,757.0 643.9,760.0 649.9,763.0 654.9,767.0 660.0,770.0"/>
<polyline points="638.9,755.0 644.9,758.0 650.9,761.0 655.9,763.0 660.0,764.0"/>
<polyline points="660.0,785.0 655.9,784.0 652.9,787.0 651.9,793.0 654.9,798.0 656.9,802.0 660.0,803.0"/>
<polyline points="648.9,808.9 650.9,806.9 654.9,807.9 655.9,810.9 651.9,810.9 648.9,808.9"/>
</g>
<g clip-path="url(#t18)">
<polyline points="603.0,590.0 601.4,594.8 597.4,599.6 596.6,606.0 595.8,610.8 595.0,614.0"/>
<polyline points="608.6,590.0 607.0,594.8 604.6,599.6 602.2,604.4 601.4,610.8 600.6,617.2 602.2,622.0 603.0,626.8 603.8,631.6 602.2,636.4 603.0,641.1 604.6,645.9 605.4,650.0"/>
<polyline points="611.8,590.0 610.2,594.8 608.6,599.6 606.2,606.0 605.4,612.4 606.2,618.8 607.0,623.6 608.6,628.4 607.8,633.2 609.4,639.6 610.2,645.9 611.0,650.0"/>
<polyline points="614.2,590.0 613.4,596.4 611.8,601.2 610.2,607.6 609.4,613.2 610.2,618.8 611.8,623.6 612.6,628.4 613.4,634.8 614.2,641.1 615.8,650.0"/>
<polyline points="616.6,590.0 615.8,594.8 615.0,601.2 613.4,607.6 612.6,614.0 614.2,620.4 615.8,625.2 616.6,631.6 617.4,638.0 619.0,644.3 619.8,650.0"/>
<polyline points="619.8,590.0 618.2,594.8 616.6,601.2 615.0,607.6 615.8,614.0 618.2,618.8 619.0,623.6 619.8,630.0 621.4,636.4 623.0,642.7 624.6,650.0"/>
<polyline points="675.0,603.6 670.9,602.0 665.3,598.8 662.1,595.6 657.3,593.2 652.5,591.6 647.7,590.0"/>
<polyline points="675.0,611.6 670.1,610.0 665.3,606.8 660.5,604.4 655.7,602.8 650.9,600.4 646.1,598.0 639.8,595.6 635.0,592.4 631.8,590.0"/>
<polyline points="675.0,616.4 670.1,615.6 665.3,614.0 658.9,611.6 654.1,609.2 649.3,606.8 644.6,604.4 639.8,602.0 635.0,598.8 630.2,596.4 625.4,593.2 622.2,590.0"/>
<polyline points="675.0,619.6 669.3,618.0 663.7,616.4 658.1,614.8 653.3,614.0 648.5,612.4 643.8,610.8 639.0,608.4 634.2,606.0 629.4,603.6 625.4,601.2 622.2,599.6 619.0,598.8 617.4,602.0 618.2,606.0 619.0,610.8 621.4,614.8 623.0,620.4 624.6,626.8 625.4,633.2 627.0,639.6 628.6,645.9 629.4,650.0"/>
<polyline points="675.0,622.8 669.3,621.2 663.7,619.6 658.1,618.0 652.5,617.2 646.1,615.6 640.6,614.0 635.8,612.4 631.0,610.8 627.0,608.4 623.0,606.0 619.0,606.0 618.2,608.4 620.6,612.4 624.6,616.4 626.2,622.0 627.0,628.4 628.6,634.8 630.2,641.1 631.8,647.5 632.6,650.0"/>
<polyline points="675.0,625.2 669.3,623.6 663.7,622.0 657.3,620.4 650.9,619.6 644.6,618.8 639.0,618.0 634.2,617.2 629.4,616.4 627.0,618.0 627.8,623.6 629.4,630.0 631.0,636.4 633.4,642.7 635.0,650.0"/>
<polyline points="675.0,627.6 669.3,626.0 663.7,624.4 657.3,622.8 650.9,622.0 644.6,621.2 638.2,620.4 632.6,621.2 630.2,623.6 631.0,628.4 632.6,634.8 635.0,641.1 637.4,647.5 638.2,650.0"/>
<polyline points="675.0,630.0 669.3,628.4 663.7,626.8 657.3,625.2 650.9,624.4 644.6,623.6 638.2,622.8 634.2,623.6 632.6,626.8 633.4,631.6 635.0,638.0 637.4,644.3 639.8,650.0"/>
<polyline points="675.0,633.2 670.1,631.6 665.3,630.0 658.9,627.6 652.5,626.8 646.1,626.0 640.6,625.2 636.6,626.0 635.0,629.2 635.8,634.8 638.2,641.1 640.6,647.5 641.4,650.0"/>
<polyline points="660.5,590.0 663.7,593.2 666.9,596.4 670.9,598.0 675.0,598.8"/>
<polyline points="671.7,590.0 675.0,592.4"/>
<polyline points="646.1,639.6 647.7,644.3 650.9,650.0"/>
<polyline points="650.9,638.8 655.7,641.1 658.9,645.9 660.5,650.0"/>
<polyline points="617.4,606.8 619.8,606.0 621.4,608.4 620.6,610.8 618.2,610.0 617.4,606.8"/>
</g>
<g mask="url(#t19)">
<polyline points="757.9,606.0 762.9,605.0 768.9,607.0 771.4,611.0 768.9,615.0 765.9,617.9 761.9,615.0 757.9,610.0 757.9,606.0"/>
<polyline points="753.0,608.0 757.9,604.0 764.9,603.0 770.9,605.0 773.9,609.0 772.9,615.0 768.9,618.9 764.9,620.9 760.9,618.9 755.9,614.0 753.0,608.0"/>
<polyline points="741.0,603.0 747.0,602.0 753.0,599.0 758.9,597.0 764.9,595.0 770.9,597.0 774.9,601.0 776.9,607.0 774.9,615.0 772.9,620.9 768.9,622.9 763.9,624.9 758.9,622.9 755.0,618.9 751.0,614.0 747.0,610.0 743.0,606.0 741.0,603.0"/>
<polyline points="737.0,599.0 743.0,596.0 750.0,594.0 756.9,591.0 762.9,589.0 768.9,590.0 774.9,593.0 780.9,595.0 786.9,595.0 789.9,599.0 786.9,603.0 782.9,607.0 780.9,612.0 778.9,616.9 776.9,622.9 772.9,625.9 766.9,627.9 760.9,627.9 755.0,626.9 750.0,623.9 746.0,619.9 745.0,615.0 742.0,611.0 738.0,607.0 736.0,603.0 737.0,599.0"/>
<polyline points="731.0,587.0 735.0,589.0 741.0,590.0 747.0,589.0 751.0,587.0 755.0,585.0 760.9,585.0 766.9,587.0 772.9,588.0 778.9,589.0 784.9,590.0 790.9,592.0 793.9,597.0 790.9,602.0 787.9,606.0 784.9,611.0 782.9,616.9 780.9,622.9 776.9,626.9 770.9,629.9 764.9,630.9 756.9,630.9 750.0,630.9 746.0,628.9 745.0,624.9 746.0,620.9 744.0,615.9 740.0,611.0 736.0,607.0 733.0,601.0 731.0,595.0 730.0,590.0 731.0,587.0"/>
<polyline points="726.0,583.0 732.0,582.0 738.0,583.0 744.0,584.0 749.0,582.0 753.0,580.0 757.9,579.0 764.9,580.0 770.9,582.0 776.9,584.0 782.9,586.0 788.9,588.0 794.9,591.0 797.9,596.0 794.9,602.0 791.9,607.0 788.9,613.0 786.9,618.9 783.9,624.9 779.9,628.9 774.9,631.9 768.9,633.9 760.9,634.9 753.0,634.9 747.0,633.9 743.0,636.9 741.0,640.0"/>
<polyline points="705.0,575.0 709.0,571.0 714.0,567.0 716.0,565.0"/>
<polyline points="705.0,598.0 708.0,593.0 709.0,588.0 708.0,584.0 711.0,578.0 715.0,577.0 720.0,573.0 725.0,570.0 731.0,569.0 737.0,568.0 743.0,568.0 746.0,565.0"/>
<polyline points="705.0,608.0 710.0,606.0 715.0,605.0 716.0,598.0 717.0,591.0 719.0,584.0 723.0,580.0 728.0,578.0 734.0,577.0 740.0,576.0 746.0,575.0 750.0,573.0 753.0,570.0 756.9,567.0 760.9,565.0"/>
<polyline points="705.0,615.9 711.0,614.0 717.0,612.0 721.0,609.0 722.0,602.0 723.0,595.0 724.0,588.0 726.0,583.0"/>
<polyline points="705.0,622.9 711.0,620.9 718.0,618.9 725.0,615.9 729.0,612.0 730.0,605.0 731.0,598.0 730.0,591.0 731.0,587.0"/>
<polyline points="705.0,626.9 713.0,624.9 721.0,623.9 728.0,621.9 734.0,618.9 737.0,613.0 736.0,607.0 737.0,599.0"/>
<polyline points="705.0,629.9 715.0,628.9 725.0,627.9 735.0,626.9 743.0,624.9 745.0,618.9 744.0,613.0 741.0,609.0 741.0,603.0"/>
<polyline points="755.0,565.0 760.9,568.0 768.9,570.0 774.9,573.0 780.9,575.0 787.9,577.0 794.9,579.0 800.9,582.0 805.0,583.0"/>
<polyline points="774.9,565.0 780.9,567.0 786.9,568.0 792.9,569.0 798.9,571.0 805.0,573.0"/>
<polyline points="805.0,601.0 800.9,607.0 796.9,613.0 793.9,618.9 790.9,624.9 787.9,629.9 783.9,633.9 778.9,636.9 774.9,640.0"/>
<polyline points="805.0,609.0 801.9,615.0 798.9,620.9 796.9,626.9 793.9,632.9 790.9,637.9 788.9,640.0"/>
<polyline points="805.0,616.9 802.9,622.9 800.9,628.9 798.9,634.9 796.9,640.0"/>
<polyline points="705.0,640.0 711.0,636.9 720.0,635.9 729.0,636.9 735.0,640.0"/>
<polyline points="745.0,640.0 748.0,634.9 753.0,632.9 758.9,633.9"/>
</g>
<g clip-path="url(#t20)">
<polyline points="700.0,648.0 708.0,648.0 713.0,650.0 716.0,654.0 719.0,658.0 724.0,661.0 725.0,665.0 721.0,668.0 714.0,669.0 706.0,668.0 699.0,667.0 690.0,667.0 684.0,669.0 680.0,670.0"/>
<polyline points="680.0,679.0 684.0,678.0 690.0,679.0 696.0,681.0 702.0,683.0 709.0,685.0 713.0,686.9 717.0,686.9 720.0,682.0 721.0,675.0 724.0,669.0 727.0,665.0 729.0,660.0 730.9,655.0 730.0,649.0 728.0,644.0 726.0,640.0 723.0,637.0 720.0,635.0"/>
<polyline points="680.0,683.0 686.0,685.0 693.0,687.9 700.0,690.9 706.0,692.9 712.0,693.9 718.0,693.9 723.0,692.9 726.0,690.9 727.0,685.0 727.0,679.0 729.0,673.0 731.9,668.0 733.9,663.0 734.9,658.0 733.9,652.0 731.9,646.0 730.0,641.0 728.0,637.0 727.0,635.0"/>
<polyline points="687.0,694.9 692.0,694.9 698.0,695.9 704.0,696.9 710.0,696.9 716.0,695.9 722.0,694.9 727.0,692.9 729.0,688.9 730.0,683.0 730.9,677.0 733.9,672.0 735.9,667.0 737.9,662.0 738.9,657.0 736.9,652.0 734.9,647.0 733.9,642.0 731.9,637.0 730.9,635.0"/>
<polyline points="736.9,635.0 737.9,640.0 736.9,645.0 738.9,650.0 739.9,655.0 736.9,660.0 733.9,665.0 731.9,671.0 730.0,677.0 728.0,683.0 727.0,688.9 724.0,693.9 718.0,697.9 712.0,702.9 706.0,706.9 703.0,710.0"/>
<polyline points="739.9,635.0 739.9,641.0 739.9,646.0 740.9,651.0 741.9,656.0 739.9,661.0 736.9,666.0 734.9,672.0 732.9,678.0 730.9,684.0 730.0,689.9 727.0,694.9 721.0,698.9 715.0,703.9 710.0,707.9 708.0,710.0"/>
<polyline points="742.9,635.0 741.9,641.0 742.9,647.0 743.9,653.0 743.9,658.0 741.9,663.0 738.9,668.0 736.9,674.0 734.9,680.0 732.9,685.9 731.9,691.9 729.0,696.9 723.0,700.9 718.0,704.9 713.0,708.9 712.0,710.0"/>
<polyline points="745.9,635.0 744.9,641.0 745.9,647.0 745.9,653.0 745.9,659.0 743.9,664.0 740.9,670.0 738.9,676.0 736.9,682.0 734.9,687.9 733.9,693.9 730.9,697.9 726.0,702.9 721.0,706.9 718.0,710.0"/>
<polyline points="748.9,635.0 747.9,641.0 747.9,647.0 748.9,654.0 747.9,660.0 745.9,666.0 742.9,672.0 740.9,678.0 738.9,684.0 736.9,689.9 735.9,695.9 732.9,699.9 728.0,704.9 724.0,708.9 723.0,710.0"/>
<polyline points="751.9,635.0 749.9,641.0 749.9,648.0 750.9,655.0 749.9,661.0 747.9,668.0 744.9,674.0 742.9,680.0 740.9,685.9 738.9,691.9 737.9,696.9 734.9,701.9 730.9,706.9 729.0,710.0"/>
<polyline points="755.9,635.0 752.9,641.0 751.9,648.0 751.9,656.0 751.9,663.0 749.9,670.0 747.9,676.0 745.9,682.0 743.9,687.9 741.9,693.9 739.9,698.9 736.9,704.9 734.9,710.0"/>
<polyline points="765.9,635.0 759.9,639.0 755.9,645.0 755.9,651.0 756.9,658.0 757.9,665.0 755.9,671.0 751.9,677.0 749.9,683.0 748.9,688.9 746.9,694.9 743.9,700.9 741.9,706.9 740.9,710.0"/>
<polyline points="777.9,635.0 771.9,639.0 765.9,645.0 763.9,651.0 763.9,659.0 765.9,665.0 767.9,671.0 766.9,677.0 762.9,681.0 761.9,686.9 761.9,692.9 758.9,698.9 755.9,704.9 753.9,710.0"/>
<polyline points="780.0,645.0 775.9,649.0 771.9,654.0 767.9,659.0 766.9,663.0 768.9,668.0 769.9,674.0 767.9,679.0 765.9,683.0 767.9,688.9 767.9,694.9 765.9,700.9 763.9,706.9 762.9,710.0"/>
<polyline points="780.0,683.0 775.9,685.0 773.9,690.9 772.9,696.9 769.9,702.9 767.9,710.0"/>
<polyline points="680.0,637.0 686.0,641.0 692.0,643.0 698.0,642.0 702.0,639.0 705.0,635.0"/>
</g>
<g clip-path="url(#t21)">
<polyline points="704.0,705.0 700.0,709.0 692.0,713.0 685.0,718.0 684.0,724.0 687.0,730.0 690.0,734.0 693.0,738.0 690.0,742.0 687.0,746.0 686.0,752.0 685.0,757.9 687.0,763.9 689.0,769.9 688.0,774.9 687.0,780.0"/>
<polyline points="710.0,705.0 706.0,710.0 698.0,715.0 690.0,721.0 689.0,727.0 692.0,732.0 695.0,736.0 696.0,741.0 693.0,745.0 691.0,749.0 690.0,755.0 691.0,760.9 693.0,766.9 694.0,772.9 693.0,780.0"/>
<polyline points="715.9,705.0 711.9,711.0 705.0,716.0 696.0,722.0 695.0,728.0 697.0,733.0 700.0,738.0 699.0,743.0 697.0,747.0 695.0,752.0 695.0,757.9 697.0,763.9 699.0,769.9 699.0,780.0"/>
<polyline points="720.9,705.0 716.9,711.0 710.0,717.0 701.0,723.0 700.0,729.0 703.0,734.0 705.0,738.0 704.0,743.0 702.0,748.0 700.0,753.0 700.0,758.9 702.0,764.9 704.0,770.9 704.0,780.0"/>
<polyline points="725.9,705.0 721.9,711.0 714.9,717.0 707.0,724.0 706.0,730.0 709.0,735.0 710.0,740.0 709.0,745.0 707.0,750.0 705.0,755.0 705.0,760.9 707.0,766.9 709.0,772.9 709.0,780.0"/>
<polyline points="729.9,705.0 724.9,712.0 719.9,718.0 712.9,725.0 711.9,731.0 713.9,736.0 714.9,741.0 713.9,746.0 711.9,751.0 710.0,755.9 709.0,761.9 710.0,766.9 711.9,772.9 713.9,780.0"/>
<polyline points="735.9,705.0 729.9,713.0 723.9,721.0 721.9,728.0 719.9,734.0 716.9,739.0 715.9,745.0 713.9,751.0 711.9,756.9 711.9,764.9 713.9,772.9 715.9,780.0"/>
<polyline points="751.9,705.0 747.9,711.0 741.9,717.0 735.9,723.0 729.9,729.0 725.9,736.0 722.9,743.0 719.9,749.0 717.9,755.0 718.9,760.9 719.9,766.9 721.9,772.9 723.9,780.0"/>
<polyline points="760.0,712.0 753.9,717.0 749.9,723.0 745.9,729.0 739.9,734.0 733.9,739.0 728.9,743.0 724.9,747.0 722.9,752.0 719.9,755.9 719.9,760.9"/>
<polyline points="760.0,728.0 755.9,733.0 752.9,739.0 749.9,744.0 745.9,749.0 742.9,753.0 739.9,755.9 737.9,758.9 738.9,764.9 742.9,768.9 747.9,772.9 753.9,775.9 760.0,776.9"/>
<polyline points="660.0,718.0 666.0,717.0 673.0,718.0 678.0,721.0 680.0,725.0 681.0,731.0 677.0,730.0 671.0,729.0 667.0,729.0 670.0,734.0 673.0,738.0 670.0,741.0 671.0,745.0 666.0,746.0 660.0,743.0"/>
<polyline points="660.0,764.9 666.0,762.9 671.0,760.9 675.0,756.9 678.0,753.0 681.0,749.0 684.0,745.0 686.0,741.0 688.0,737.0"/>
<polyline points="660.0,769.9 665.0,767.9 670.0,764.9 675.0,762.9 680.0,758.9 683.0,755.0 684.0,751.0"/>
<polyline points="670.0,705.0 675.0,709.0 680.0,713.0 686.0,715.0 692.0,714.0 698.0,711.0 702.0,707.0 703.0,705.0"/>
<polyline points="673.0,705.0 678.0,707.0 685.0,708.0 692.0,707.0 694.0,705.0"/>
</g>
<ellipse cx="709.7" cy="434" rx="2.2" ry="1.2"/>
<ellipse cx="734" cy="448.5" rx="2.5" ry="1"/>
<ellipse cx="720" cy="443.8" rx="0.6" ry="0.6"/>
<ellipse cx="735.5" cy="472.5" rx="0.6" ry="0.6"/>
<ellipse cx="735.5" cy="483.3" rx="0.6" ry="0.6"/>
<ellipse cx="746.9" cy="481.5" rx="1" ry="1"/>
<ellipse cx="752.3" cy="464.2" rx="0.8" ry="0.6"/>
<ellipse cx="706" cy="390" rx="5" ry="2.2"/>
<ellipse cx="716" cy="388.5" rx="3" ry="4.5"/>
<ellipse cx="708" cy="384" rx="2" ry="2.5"/>
<ellipse cx="697" cy="403" rx="2" ry="1.2"/>
<ellipse cx="708.5" cy="432.7" rx="1" ry="1"/>
<ellipse cx="712" cy="436.3" rx="1" ry="1"/>
<ellipse cx="719.3" cy="443.5" rx="0.6" ry="0.6"/>
<ellipse cx="733.7" cy="447" rx="1" ry="1"/>
<ellipse cx="773.3" cy="454.3" rx="1.2" ry="2"/>
<ellipse cx="778.7" cy="456.1" rx="1.5" ry="1.5"/>
<ellipse cx="771.5" cy="463.3" rx="1" ry="1"/>
<ellipse cx="803.9" cy="465" rx="1" ry="2"/>
<ellipse cx="811" cy="463.3" rx="1" ry="1.6"/>
<ellipse cx="752.6" cy="464.2" rx="0.8" ry="0.8"/>
<ellipse cx="776.9" cy="443.5" rx="1.5" ry="1.5"/>
<ellipse cx="787.7" cy="450.7" rx="1.2" ry="1.2"/>
<ellipse cx="796.7" cy="443.5" rx="0.8" ry="0.8"/>
<ellipse cx="772" cy="388" rx="1" ry="1"/>
<ellipse cx="777" cy="391" rx="1.5" ry="1.5"/>
<ellipse cx="956" cy="191.3" rx="0.7" ry="0.7"/>
<ellipse cx="978.3" cy="182" rx="0.6" ry="0.6"/>
<ellipse cx="955" cy="231" rx="0.9" ry="0.9"/>
<ellipse cx="957.5" cy="242.5" rx="1" ry="1"/>
<ellipse cx="945.5" cy="263" rx="1.3" ry="1.6"/>
<ellipse cx="948.5" cy="258.6" rx="0.9" ry="0.9"/>
<ellipse cx="943" cy="274.3" rx="1.2" ry="1.2"/>
<ellipse cx="954.8" cy="378.8" rx="0.6" ry="0.6"/>
<ellipse cx="973" cy="395.7" rx="0.6" ry="0.6"/>
<ellipse cx="908.9" cy="438.2" rx="0.7" ry="0.7"/>
<ellipse cx="928.4" cy="434.6" rx="0.6" ry="0.6"/>
<ellipse cx="871.7" cy="471.2" rx="1" ry="1"/>
<ellipse cx="777.9" cy="444.3" rx="1.5" ry="1"/>
<ellipse cx="788.5" cy="451.4" rx="1.2" ry="1.2"/>
<ellipse cx="773.2" cy="456.1" rx="1" ry="1.8"/>
<ellipse cx="779.6" cy="457.3" rx="1.3" ry="1.3"/>
<ellipse cx="771.6" cy="464.8" rx="0.8" ry="1"/>
<ellipse cx="804.9" cy="464.8" rx="1" ry="1.8"/>
<ellipse cx="810.8" cy="463.1" rx="1" ry="1.5"/>
<ellipse cx="770.2" cy="479.6" rx="0.6" ry="0.6"/>
<ellipse cx="777.9" cy="481.9" rx="1" ry="0.8"/>
<ellipse cx="796.7" cy="444.3" rx="0.6" ry="0.6"/>
<ellipse cx="849.5" cy="451.4" rx="1.2" ry="1"/>
<ellipse cx="851.9" cy="459.6" rx="0.6" ry="0.6"/>
<ellipse cx="845.5" cy="464.8" rx="0.6" ry="0.6"/>
<ellipse cx="900" cy="532.4" rx="0.9" ry="0.9"/>
<ellipse cx="900.7" cy="534.7" rx="0.9" ry="1.2"/>
<ellipse cx="931" cy="561" rx="1.2" ry="0.9"/>
<ellipse cx="978.6" cy="598.1" rx="1" ry="0.8"/>
<ellipse cx="794.3" cy="541.8" rx="0.6" ry="0.6"/>
<ellipse cx="627.5" cy="380" rx="1.5" ry="1"/>
<ellipse cx="634" cy="383" rx="1.2" ry="1"/>
<ellipse cx="631" cy="412" rx="0.7" ry="0.7"/>
<ellipse cx="654" cy="396" rx="0.7" ry="0.7"/>
<ellipse cx="640" cy="393" rx="0.6" ry="1"/>
<ellipse cx="656" cy="412" rx="0.8" ry="0.8"/>
</g></g>
<path d="M63,119.5L992,101.0M63,207.5L992,189.0M63,295.5L992,277.0M63,383.5L992,365.0M63,471.5L992,453.0M63,559.5L992,541.0M63,647.5L992,629.0M63,735.5L992,717.0M63,823.5L992,805.0M63,911.5L992,893.0M61.0,146L74.9,824M244.5,146L258.4,824M428.2,146L442.1,824M611.6,146L625.5,824M795.3,146L809.2,824M979.0,146L992.9,824" stroke="#fff" stroke-opacity="0.42" stroke-width="0.9" fill="none"/>
<polyline points="413.2,824.5 418.7,805.0 418.7,784.2 425.4,775.0 429.0,770.1 441.0,760.5 459.0,748.5 476.9,735.4 493.7,722.2 510.5,704.2 517.7,693.4 516.5,675.4 523.0,666.6 522.0,660.0 521.6,661.5 523.3,656.5 518.3,653.1 520.8,644.8 520.0,635.7 529.9,634.8 535.8,631.5 534.9,628.2 528.6,621.5 526.9,610.7 529.9,607.4 537.4,601.6 538.3,593.2 537.4,583.3 531.6,575.0 517.5,570.0 514.6,567.4 514.6,557.5 517.5,553.3 529.9,550.0 534.9,540.0 535.5,530.0 534.9,522.2 531.2,517.3 526.2,509.8 524.3,502.3 524.9,497.9 533.7,494.8 537.4,491.1 537.4,488.6 531.2,481.1 535.5,478.6 532.4,474.9 533.0,471.1 537.4,466.1 546.1,460.5 551.1,456.8 558.6,454.3 564.2,451.2 566.1,444.3 566.1,439.3 569.8,435.0 574.2,427.5 575.4,420.0 576.8,417.1 583.1,410.1 593.6,403.8 599.2,400.6 608.3,399.7 610.0,398.3 607.6,394.8 608.7,387.8 609.7,379.4 611.0,374.5 616.0,373.8 618.0,375.2 627.1,372.4 630.0,369.6 632.7,371.0 643.9,368.2 659.3,365.1 669.1,367.5 673.3,375.9 674.0,376.6 687.9,380.6 692.6,374.8 711.4,370.4 717.8,369.5 718.6,373.6 716.6,377.6 710.6,376.0 692.6,391.6 705.4,406.0 721.8,390.0 717.8,385.2 718.6,384.2 730.6,386.4 739.4,394.0 736.2,396.4 740.2,401.6 737.0,402.0 729.8,396.8 711.4,413.6 765.6,458.3 772.8,449.8 776.9,450.7 787.7,438.1 753.0,404.8 749.0,410.2 763.4,422.8 768.8,421.0 794.0,439.5 789.9,445.8 801.6,454.8 818.3,436.8 780.5,399.4 785.6,394.0 808.2,415.8 819.1,423.2 830.0,422.8 856.5,421.8 865.8,417.1 897.0,381.8 932.0,299.2 933.8,264.8 936.0,233.6 937.6,194.6 929.2,144.0" fill="none" stroke="#000" stroke-width="2.2" stroke-linejoin="round"/>
<path d="M711,369L742.7,359" stroke="#000" stroke-width="2.8" stroke-linecap="butt"/>
</g>
<rect x="62.5" y="145.5" width="929.5" height="679" fill="none" stroke="#000" stroke-width="1.1"/>
<text x="54.3" y="211.6" font-size="11.2" text-anchor="end" fill="#000">33.86°S</text>
<text x="54.3" y="299.6" font-size="11.2" text-anchor="end" fill="#000">33.88°S</text>
<text x="54.3" y="387.6" font-size="11.2" text-anchor="end" fill="#000">33.9°S</text>
<text x="54.3" y="475.6" font-size="11.2" text-anchor="end" fill="#000">33.92°S</text>
<text x="54.3" y="563.6" font-size="11.2" text-anchor="end" fill="#000">33.94°S</text>
<text x="54.3" y="651.6" font-size="11.2" text-anchor="end" fill="#000">33.96°S</text>
<text x="54.3" y="739.6" font-size="11.2" text-anchor="end" fill="#000">33.98°S</text>
<text transform="translate(80.5,834) rotate(-90)" font-size="11.1" text-anchor="end" fill="#000">18.25°E</text>
<text transform="translate(263.0,834) rotate(-90)" font-size="11.1" text-anchor="end" fill="#000">18.3°E</text>
<text transform="translate(446.0,834) rotate(-90)" font-size="11.1" text-anchor="end" fill="#000">18.35°E</text>
<text transform="translate(629.5,834) rotate(-90)" font-size="11.1" text-anchor="end" fill="#000">18.4°E</text>
<text transform="translate(813.0,834) rotate(-90)" font-size="11.1" text-anchor="end" fill="#000">18.45°E</text>
<defs><pattern id="d15" width="2" height="2" patternUnits="userSpaceOnUse"><rect width="2" height="2" fill="#ecd600"/><rect width="1" height="1" fill="#e8c200"/><rect x="1" y="1" width="1" height="1" fill="#e8c200"/></pattern><pattern id="d16" width="2" height="2" patternUnits="userSpaceOnUse"><rect width="2" height="2" fill="#e8c400"/><rect width="1" height="1" fill="#e6aa00"/><rect x="1" y="1" width="1" height="1" fill="#e6aa00"/></pattern></defs>
<rect x="155" y="880" width="29" height="29" fill="#0000e8" shape-rendering="crispEdges"/>
<rect x="184" y="880" width="30" height="29" fill="#0038e0" shape-rendering="crispEdges"/>
<rect x="214" y="880" width="30" height="29" fill="#0070e8" shape-rendering="crispEdges"/>
<rect x="244" y="880" width="30" height="29" fill="#00a8e8" shape-rendering="crispEdges"/>
<rect x="274" y="880" width="29" height="29" fill="#00d4e8" shape-rendering="crispEdges"/>
<rect x="303" y="880" width="30" height="29" fill="#00e0d0" shape-rendering="crispEdges"/>
<rect x="333" y="880" width="30" height="29" fill="#00d4a0" shape-rendering="crispEdges"/>
<rect x="363" y="880" width="30" height="29" fill="#00c070" shape-rendering="crispEdges"/>
<rect x="393" y="880" width="29" height="29" fill="#00b040" shape-rendering="crispEdges"/>
<rect x="422" y="880" width="30" height="29" fill="#10a810" shape-rendering="crispEdges"/>
<rect x="452" y="880" width="30" height="29" fill="#38b000" shape-rendering="crispEdges"/>
<rect x="482" y="880" width="30" height="29" fill="#6cc000" shape-rendering="crispEdges"/>
<rect x="512" y="880" width="29" height="29" fill="#a0d400" shape-rendering="crispEdges"/>
<rect x="541" y="880" width="30" height="29" fill="#cce000" shape-rendering="crispEdges"/>
<rect x="571" y="880" width="30" height="29" fill="#e8e000" shape-rendering="crispEdges"/>
<rect x="601" y="880" width="30" height="29" fill="url(#d15)" shape-rendering="crispEdges"/>
<rect x="631" y="880" width="29" height="29" fill="url(#d16)" shape-rendering="crispEdges"/>
<rect x="660" y="880" width="30" height="29" fill="#e8b000" shape-rendering="crispEdges"/>
<rect x="690" y="880" width="30" height="29" fill="#e89800" shape-rendering="crispEdges"/>
<rect x="720" y="880" width="30" height="29" fill="#e87800" shape-rendering="crispEdges"/>
<rect x="750" y="880" width="29" height="29" fill="#e85800" shape-rendering="crispEdges"/>
<rect x="779" y="880" width="30" height="29" fill="#e83800" shape-rendering="crispEdges"/>
<rect x="809" y="880" width="30" height="29" fill="#e81800" shape-rendering="crispEdges"/>
<rect x="839" y="880" width="30" height="29" fill="#dc0000" shape-rendering="crispEdges"/>
<rect x="869" y="880" width="30" height="29" fill="#c00020" shape-rendering="crispEdges"/>
<rect x="155.5" y="879.5" width="744" height="30" fill="none" stroke="#000" stroke-width="1"/>
<path d="M155.50,909L155.50,914.4M184.50,909L184.50,912.3M214.50,909L214.50,914.4M244.50,909L244.50,912.3M274.50,909L274.50,914.4M303.50,909L303.50,912.3M333.50,909L333.50,914.4M363.50,909L363.50,912.3M393.50,909L393.50,914.4M422.50,909L422.50,912.3M452.50,909L452.50,914.4M482.50,909L482.50,912.3M512.50,909L512.50,914.4M541.50,909L541.50,912.3M571.50,909L571.50,914.4M601.50,909L601.50,912.3M631.50,909L631.50,914.4M660.50,909L660.50,912.3M690.50,909L690.50,914.4M720.50,909L720.50,912.3M750.50,909L750.50,914.4M779.50,909L779.50,912.3M809.50,909L809.50,914.4M839.50,909L839.50,912.3M869.50,909L869.50,914.4M899.50,909L899.50,912.3" stroke="#000" stroke-width="1"/>
<text x="155.20" y="930" font-size="13.89" text-anchor="middle" fill="#000">0.0</text>
<text x="214.52" y="930" font-size="13.89" text-anchor="middle" fill="#000">1.6</text>
<text x="274.04" y="930" font-size="13.89" text-anchor="middle" fill="#000">3.2</text>
<text x="333.56" y="930" font-size="13.89" text-anchor="middle" fill="#000">4.8</text>
<text x="393.08" y="930" font-size="13.89" text-anchor="middle" fill="#000">6.4</text>
<text x="452.60" y="930" font-size="13.89" text-anchor="middle" fill="#000">8.0</text>
<text x="512.12" y="930" font-size="13.89" text-anchor="middle" fill="#000">9.6</text>
<text x="571.64" y="930" font-size="13.89" text-anchor="middle" fill="#000">11.2</text>
<text x="631.16" y="930" font-size="13.89" text-anchor="middle" fill="#000">12.8</text>
<text x="690.68" y="930" font-size="13.89" text-anchor="middle" fill="#000">14.4</text>
<text x="750.20" y="930" font-size="13.89" text-anchor="middle" fill="#000">16.0</text>
<text x="809.72" y="930" font-size="13.89" text-anchor="middle" fill="#000">17.6</text>
<text x="869.24" y="930" font-size="13.89" text-anchor="middle" fill="#000">19.2</text>
<text x="527" y="949" font-size="13.89" text-anchor="middle" fill="#000">bsratio</text>
<circle cx="581.3" cy="418.2" r="3.6" fill="#000" stroke="#fff" stroke-width="0.9"/>
<circle cx="626.6" cy="450.1" r="3.6" fill="#000" stroke="#fff" stroke-width="0.9"/>
<circle cx="577.6" cy="541.4" r="3.6" fill="#000" stroke="#fff" stroke-width="0.9"/>
<circle cx="524.4" cy="563.0" r="3.6" fill="#000" stroke="#fff" stroke-width="0.9"/>
<circle cx="805.5" cy="591.3" r="3.6" fill="#000" stroke="#fff" stroke-width="0.9"/>
<circle cx="643.4" cy="636.3" r="3.6" fill="#000" stroke="#fff" stroke-width="0.9"/>
<circle cx="665.4" cy="644.4" r="3.6" fill="#000" stroke="#fff" stroke-width="0.9"/>
<circle cx="681.4" cy="774.2" r="3.6" fill="#000" stroke="#fff" stroke-width="0.9"/>
<text x="588.3" y="418.6" font-size="11.1" font-weight="bold" fill="#fff" stroke="#000" stroke-width="2" stroke-linejoin="round" paint-order="stroke">SHL: 0.4</text>
<text x="633.0" y="450.5" font-size="11.1" font-weight="bold" fill="#fff" stroke="#000" stroke-width="2" stroke-linejoin="round" paint-order="stroke">SHT: 1.0</text>
<text x="584.0" y="541.8" font-size="11.1" font-weight="bold" fill="#fff" stroke="#000" stroke-width="2" stroke-linejoin="round" paint-order="stroke">LHT: 0.8</text>
<text x="531.0" y="563.4" font-size="11.1" font-weight="bold" fill="#fff" stroke="#000" stroke-width="2" stroke-linejoin="round" paint-order="stroke">LHL: 0.0</text>
<text x="812.8" y="591.7" font-size="11.1" font-weight="bold" fill="#fff" stroke="#000" stroke-width="2" stroke-linejoin="round" paint-order="stroke">BTO: 1.0</text>
<text x="650.3" y="636.7" font-size="11.1" font-weight="bold" fill="#fff" stroke="#000" stroke-width="2" stroke-linejoin="round" paint-order="stroke">GUT: 1.0</text>
<text x="671.9" y="665.4" font-size="11.1" font-weight="bold" fill="#fff" stroke="#000" stroke-width="2" stroke-linejoin="round" paint-order="stroke">TMT: 1.0</text>
<text x="688.3" y="774.6" font-size="11.1" font-weight="bold" fill="#fff" stroke="#000" stroke-width="2" stroke-linejoin="round" paint-order="stroke">OHT: 1.0</text>
</svg></body></html>
